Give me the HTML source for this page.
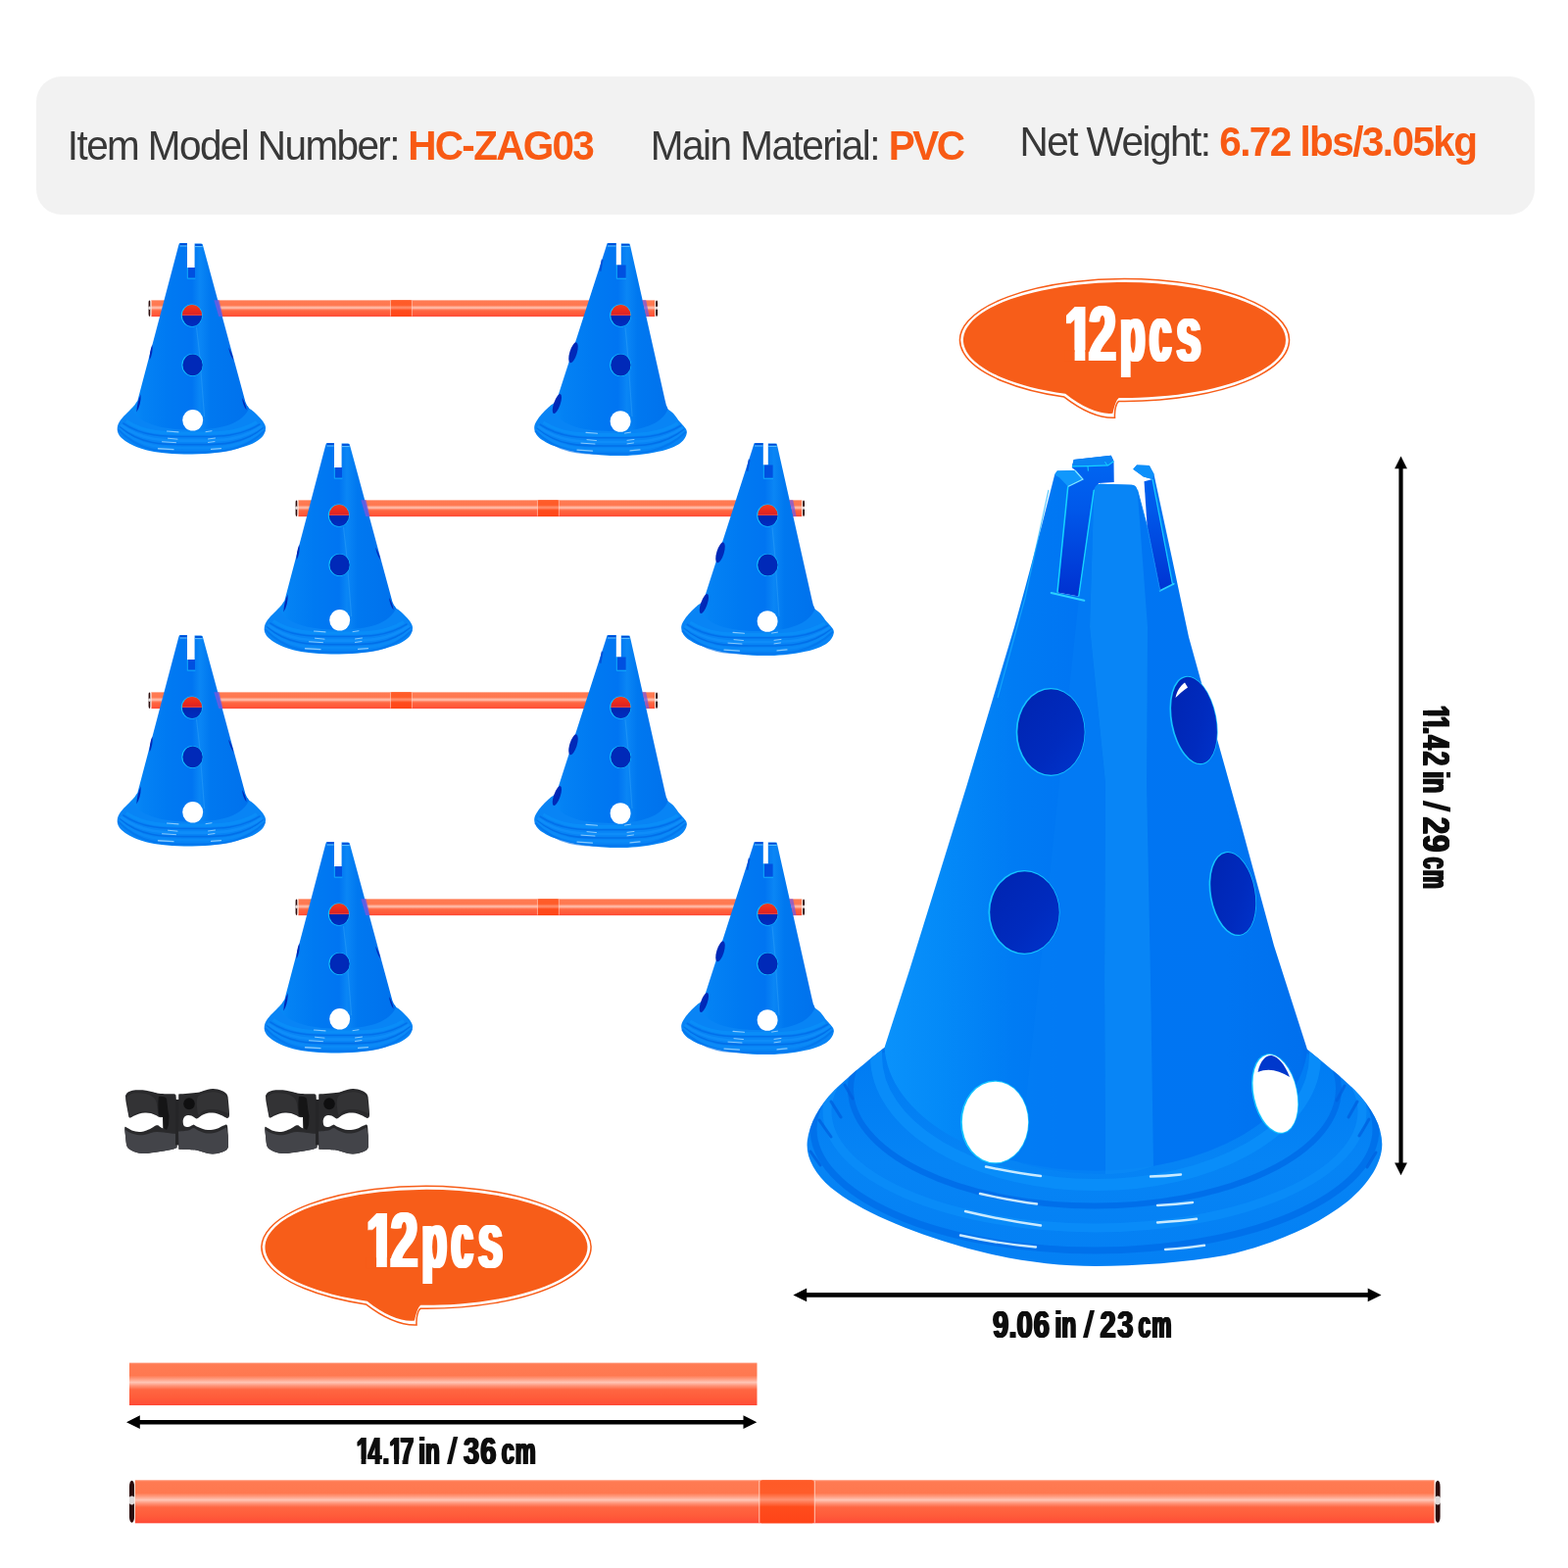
<!DOCTYPE html>
<html lang="en">
<head>
<meta charset="utf-8">
<title>Training cone hurdle set - specifications</title>
<style>
html,body{margin:0;padding:0;background:#fff;}
body{width:1600px;height:1600px;overflow:hidden;font-family:'Liberation Sans', sans-serif;}
svg{display:block;}
</style>
</head>
<body>
<svg width="1600" height="1600" viewBox="0 0 1600 1600">
<defs>
<filter id="fat1" x="-5%" y="-10%" width="110%" height="120%"><feOffset in="SourceGraphic" dx="-0.9" result="a"/><feOffset in="SourceGraphic" dx="-0.45" result="b"/><feOffset in="SourceGraphic" dx="0.45" result="c"/><feOffset in="SourceGraphic" dx="0.9" result="d"/><feMerge><feMergeNode in="a"/><feMergeNode in="b"/><feMergeNode in="SourceGraphic"/><feMergeNode in="c"/><feMergeNode in="d"/></feMerge></filter>
<filter id="fat2" x="-5%" y="-10%" width="110%" height="120%"><feOffset in="SourceGraphic" dx="-2" result="a"/><feOffset in="SourceGraphic" dx="-1" result="b"/><feOffset in="SourceGraphic" dx="1" result="c"/><feOffset in="SourceGraphic" dx="2" result="d"/><feMerge><feMergeNode in="a"/><feMergeNode in="b"/><feMergeNode in="SourceGraphic"/><feMergeNode in="c"/><feMergeNode in="d"/></feMerge></filter>
<linearGradient id="scL" gradientUnits="userSpaceOnUse" x1="130" y1="0" x2="262" y2="0"><stop offset="0" stop-color="#0a8ef7"/><stop offset="0.12" stop-color="#0482f4"/><stop offset="0.3" stop-color="#007af2"/><stop offset="0.5" stop-color="#0075f2"/><stop offset="0.56" stop-color="#0a86f5"/><stop offset="0.64" stop-color="#0078f0"/><stop offset="1" stop-color="#0070ec"/></linearGradient>
<linearGradient id="scR" gradientUnits="userSpaceOnUse" x1="558" y1="0" x2="690" y2="0"><stop offset="0" stop-color="#0a8ef7"/><stop offset="0.12" stop-color="#0482f4"/><stop offset="0.35" stop-color="#007af2"/><stop offset="0.55" stop-color="#0075f2"/><stop offset="0.62" stop-color="#0a86f5"/><stop offset="0.7" stop-color="#0078f0"/><stop offset="1" stop-color="#0070ec"/></linearGradient>
<linearGradient id="scB" x1="0" y1="0" x2="0" y2="1"><stop offset="0" stop-color="#0078f1"/><stop offset="0.55" stop-color="#0a88f6"/><stop offset="0.8" stop-color="#047ef3"/><stop offset="1" stop-color="#0078f0"/></linearGradient>
<linearGradient id="holeRod" x1="0" y1="0" x2="0" y2="1"><stop offset="0" stop-color="#f23a1c"/><stop offset="0.3" stop-color="#e8281c"/><stop offset="0.47" stop-color="#d8242a"/><stop offset="0.49" stop-color="#f08070"/><stop offset="0.52" stop-color="#0026b0"/><stop offset="1" stop-color="#002cc0"/></linearGradient>
<linearGradient id="bcBody" gradientUnits="userSpaceOnUse" x1="900" y1="0" x2="1340" y2="0"><stop offset="0" stop-color="#0a92fb"/><stop offset="0.14" stop-color="#048af8"/><stop offset="0.3" stop-color="#007cf4"/><stop offset="0.45" stop-color="#0075f3"/><stop offset="0.8" stop-color="#0075f2"/><stop offset="0.97" stop-color="#0070ee"/><stop offset="1" stop-color="#0068e8"/></linearGradient>
<linearGradient id="bcBase" gradientUnits="userSpaceOnUse" x1="0" y1="1080" x2="0" y2="1292"><stop offset="0" stop-color="#007cf3"/><stop offset="0.5" stop-color="#0684f5"/><stop offset="1" stop-color="#0480f4"/></linearGradient>
<linearGradient id="bcHole" x1="0" y1="0" x2="1" y2="1"><stop offset="0" stop-color="#0024b0"/><stop offset="0.6" stop-color="#002bbe"/><stop offset="1" stop-color="#0034cc"/></linearGradient>
<clipPath id="bcClip"><path d="M902.5,1069 C886,1082 866,1098 851,1113 C836,1128 826,1147 823.8,1164 C822,1180 830,1196 848,1212 C880,1238 940,1262 1000,1277 C1040,1287 1080,1292 1118,1292 C1160,1292 1210,1288 1250,1281 C1300,1270 1345,1250 1375,1226 C1398,1207 1410,1186 1410.3,1168 C1410.5,1150 1400,1130 1382,1112 C1368,1098 1350,1084 1334,1071 Z"/></clipPath>
<linearGradient id="bcSlot" gradientUnits="userSpaceOnUse" x1="0" y1="470" x2="0" y2="610"><stop offset="0" stop-color="#0066f2"/><stop offset="0.35" stop-color="#0058ea"/><stop offset="1" stop-color="#0030d0"/></linearGradient>
<linearGradient id="rod1" gradientUnits="userSpaceOnUse" x1="0" y1="306.3" x2="0" y2="323.1"><stop offset="0" stop-color="#ff8c6a"/><stop offset="0.05" stop-color="#ff7a52"/><stop offset="0.3" stop-color="#ff7850"/><stop offset="0.38" stop-color="#ff9c80"/><stop offset="0.462" stop-color="#ffc6b6"/><stop offset="0.54" stop-color="#ff9478"/><stop offset="0.63" stop-color="#ff6642"/><stop offset="0.82" stop-color="#ff5c3a"/><stop offset="0.95" stop-color="#ff5038"/><stop offset="1" stop-color="#ff4836"/></linearGradient>
<linearGradient id="rod1j" gradientUnits="userSpaceOnUse" x1="0" y1="306.3" x2="0" y2="323.1"><stop offset="0" stop-color="#ff5a26"/><stop offset="0.3" stop-color="#ff5c2a"/><stop offset="0.455" stop-color="#ff9272"/><stop offset="0.62" stop-color="#ff4c1c"/><stop offset="1" stop-color="#ff4418"/></linearGradient>
<linearGradient id="rod2" gradientUnits="userSpaceOnUse" x1="0" y1="306.3" x2="0" y2="323.1"><stop offset="0" stop-color="#ff8c6a"/><stop offset="0.05" stop-color="#ff7a52"/><stop offset="0.3" stop-color="#ff7850"/><stop offset="0.38" stop-color="#ff9c80"/><stop offset="0.462" stop-color="#ffc6b6"/><stop offset="0.54" stop-color="#ff9478"/><stop offset="0.63" stop-color="#ff6642"/><stop offset="0.82" stop-color="#ff5c3a"/><stop offset="0.95" stop-color="#ff5038"/><stop offset="1" stop-color="#ff4836"/></linearGradient>
<linearGradient id="rod2j" gradientUnits="userSpaceOnUse" x1="0" y1="306.3" x2="0" y2="323.1"><stop offset="0" stop-color="#ff5a26"/><stop offset="0.3" stop-color="#ff5c2a"/><stop offset="0.455" stop-color="#ff9272"/><stop offset="0.62" stop-color="#ff4c1c"/><stop offset="1" stop-color="#ff4418"/></linearGradient>
<linearGradient id="rod3" gradientUnits="userSpaceOnUse" x1="0" y1="306.3" x2="0" y2="323.1"><stop offset="0" stop-color="#ff8c6a"/><stop offset="0.05" stop-color="#ff7a52"/><stop offset="0.3" stop-color="#ff7850"/><stop offset="0.38" stop-color="#ff9c80"/><stop offset="0.462" stop-color="#ffc6b6"/><stop offset="0.54" stop-color="#ff9478"/><stop offset="0.63" stop-color="#ff6642"/><stop offset="0.82" stop-color="#ff5c3a"/><stop offset="0.95" stop-color="#ff5038"/><stop offset="1" stop-color="#ff4836"/></linearGradient>
<linearGradient id="rod3j" gradientUnits="userSpaceOnUse" x1="0" y1="306.3" x2="0" y2="323.1"><stop offset="0" stop-color="#ff5a26"/><stop offset="0.3" stop-color="#ff5c2a"/><stop offset="0.455" stop-color="#ff9272"/><stop offset="0.62" stop-color="#ff4c1c"/><stop offset="1" stop-color="#ff4418"/></linearGradient>
<linearGradient id="rod4" gradientUnits="userSpaceOnUse" x1="0" y1="306.3" x2="0" y2="323.1"><stop offset="0" stop-color="#ff8c6a"/><stop offset="0.05" stop-color="#ff7a52"/><stop offset="0.3" stop-color="#ff7850"/><stop offset="0.38" stop-color="#ff9c80"/><stop offset="0.462" stop-color="#ffc6b6"/><stop offset="0.54" stop-color="#ff9478"/><stop offset="0.63" stop-color="#ff6642"/><stop offset="0.82" stop-color="#ff5c3a"/><stop offset="0.95" stop-color="#ff5038"/><stop offset="1" stop-color="#ff4836"/></linearGradient>
<linearGradient id="rod4j" gradientUnits="userSpaceOnUse" x1="0" y1="306.3" x2="0" y2="323.1"><stop offset="0" stop-color="#ff5a26"/><stop offset="0.3" stop-color="#ff5c2a"/><stop offset="0.455" stop-color="#ff9272"/><stop offset="0.62" stop-color="#ff4c1c"/><stop offset="1" stop-color="#ff4418"/></linearGradient>
<linearGradient id="rod5" gradientUnits="userSpaceOnUse" x1="0" y1="1390.6" x2="0" y2="1434"><stop offset="0" stop-color="#ff8c6a"/><stop offset="0.05" stop-color="#ff7a52"/><stop offset="0.3" stop-color="#ff7850"/><stop offset="0.38" stop-color="#ff9c80"/><stop offset="0.462" stop-color="#ffc6b6"/><stop offset="0.54" stop-color="#ff9478"/><stop offset="0.63" stop-color="#ff6642"/><stop offset="0.82" stop-color="#ff5c3a"/><stop offset="0.95" stop-color="#ff5038"/><stop offset="1" stop-color="#ff4836"/></linearGradient>
<linearGradient id="rod5j" gradientUnits="userSpaceOnUse" x1="0" y1="1390.6" x2="0" y2="1434"><stop offset="0" stop-color="#ff5a26"/><stop offset="0.3" stop-color="#ff5c2a"/><stop offset="0.455" stop-color="#ff9272"/><stop offset="0.62" stop-color="#ff4c1c"/><stop offset="1" stop-color="#ff4418"/></linearGradient>
<linearGradient id="rod6" gradientUnits="userSpaceOnUse" x1="0" y1="1510.3" x2="0" y2="1554.3"><stop offset="0" stop-color="#ff8c6a"/><stop offset="0.05" stop-color="#ff7a52"/><stop offset="0.3" stop-color="#ff7850"/><stop offset="0.38" stop-color="#ff9c80"/><stop offset="0.462" stop-color="#ffc6b6"/><stop offset="0.54" stop-color="#ff9478"/><stop offset="0.63" stop-color="#ff6642"/><stop offset="0.82" stop-color="#ff5c3a"/><stop offset="0.95" stop-color="#ff5038"/><stop offset="1" stop-color="#ff4836"/></linearGradient>
<linearGradient id="rod6j" gradientUnits="userSpaceOnUse" x1="0" y1="1510.3" x2="0" y2="1554.3"><stop offset="0" stop-color="#ff5a26"/><stop offset="0.3" stop-color="#ff5c2a"/><stop offset="0.455" stop-color="#ff9272"/><stop offset="0.62" stop-color="#ff4c1c"/><stop offset="1" stop-color="#ff4418"/></linearGradient>
</defs>
<rect x="37" y="78" width="1529" height="141" rx="26" ry="26" fill="#f2f2f2"/>
<g font-family="'Liberation Sans', sans-serif">
<text transform="translate(68.85,163) scale(1,1.04)" font-size="40.5" letter-spacing="-1.590" fill="#383838">Item Model Number:</text>
<text transform="translate(416.27,163) scale(1,1.04)" font-size="40.5" letter-spacing="-1.693" fill="#f85a14" font-weight="bold">HC-ZAG03</text>
<text transform="translate(663.66,163) scale(1,1.04)" font-size="40.5" letter-spacing="-1.489" fill="#383838">Main Material:</text>
<text transform="translate(906.77,163) scale(1,1.04)" font-size="40.5" letter-spacing="-2.491" fill="#f85a14" font-weight="bold">PVC</text>
<text transform="translate(1040.41,159.3) scale(1,1.04)" font-size="40.5" letter-spacing="-1.507" fill="#383838">Net Weight:</text>
<text transform="translate(1244.23,159.3) scale(1,1.04)" font-size="40.5" letter-spacing="-1.573" fill="#f85a14" font-weight="bold">6.72 lbs/3.05kg</text>
</g>
<g transform="translate(0,0)">
<rect x="154.33" y="306.3" width="513.94" height="16.8" fill="url(#rod1)"/>
<rect x="398.8" y="306.3" width="21.2" height="16.8" rx="1.18" fill="url(#rod1j)"/>
<path d="M398.44,306.8 V322.6 M420.36,306.8 V322.6" stroke="#ffd2c2" stroke-width="0.6" fill="none"/>
<rect x="151.6" y="306.47" width="1.93" height="16.46" rx="0.97" ry="2.35" fill="#2c0c0c"/>
<ellipse cx="152.57" cy="314.2" rx="1.2" ry="1.68" fill="#fff" opacity="0.85"/>
<rect x="153.53" y="306.7" width="0.9" height="16" fill="#ffe4da"/>
<rect x="669.07" y="306.47" width="1.93" height="16.46" rx="0.97" ry="2.35" fill="#2c0c0c"/>
<ellipse cx="670.03" cy="314.2" rx="1.2" ry="1.68" fill="#fff" opacity="0.85"/>
<rect x="668.17" y="306.7" width="0.9" height="16" fill="#ffe4da"/>
</g>
<g transform="translate(0,0)">
<path d="M252.2,414 254.1,416.6 C254.98,417.27 257.43,418.85 259.4,420.6 C261.37,422.35 264.17,425.12 265.9,427.1 C267.63,429.08 268.95,430.82 269.8,432.5 C270.65,434.18 271.13,435.32 271,437.2 C270.87,439.07 270.21,441.78 269,443.75 C267.79,445.72 266.08,447.32 263.75,449 C261.42,450.68 258.64,452.32 255,453.8 C251.36,455.28 247.4,456.57 241.9,457.9 C236.4,459.23 229.65,460.85 222,461.8 C214.35,462.75 204.67,463.5 196,463.6 C187.33,463.7 177.04,462.97 170,462.4 C162.96,461.83 158.65,461.2 153.75,460.2 C148.85,459.2 144.24,457.68 140.6,456.4 C136.96,455.12 134.6,454.02 131.9,452.5 C129.2,450.98 126.3,449 124.4,447.25 C122.5,445.5 121.27,443.89 120.5,442 C119.73,440.11 119.51,437.94 119.8,435.9 C120.09,433.86 120.97,431.8 122.25,429.75 C123.53,427.7 125.46,425.83 127.5,423.6 C129.54,421.38 133.33,417.6 134.5,416.4 Z" fill="#0884f5"/>
<path d="M128.8,429.6 C150.14,443.6 172.16,442.1 195.5,442.1 C218.78,442.1 240.72,443.6 262,430.6" fill="none" stroke="#0a8ef8" stroke-width="3.2" opacity="0.9"/>
<path d="M125.3,431.6 C147.76,446.9 170.93,445.4 195.5,445.4 C220,445.4 243.1,446.9 265.5,432.6" fill="none" stroke="#006ce8" stroke-width="1.5" opacity="0.8"/>
<path d="M123.3,433.6 C146.4,451.1 170.23,449.6 195.5,449.6 C220.7,449.6 244.46,451.1 267.5,434.6" fill="none" stroke="#1090fa" stroke-width="2.6" opacity="0.8"/>
<path d="M121.8,435.6 C145.38,455.1 169.71,453.6 195.5,453.6 C221.22,453.6 245.48,455.1 269,436.6" fill="none" stroke="#006ae6" stroke-width="1.6" opacity="0.8"/>
<path d="M121,436.6 C144.84,458.6 169.43,457.1 195.5,457.1 C221.5,457.1 246.02,458.6 269.8,437.6" fill="none" stroke="#0c8cf8" stroke-width="2.4" opacity="0.8"/>
<path d="M120.4,438.1 C144.43,462.9 169.22,461.4 195.5,461.4 C221.71,461.4 246.43,462.9 270.4,439.1" fill="none" stroke="#0070ea" stroke-width="2" opacity="0.6"/>
<path d="M170.5,439.95 L182,440.85" stroke="#b4e0ff" stroke-width="1.1" stroke-linecap="round" opacity="0.75"/>
<path d="M171.5,447.25 L181,448.15" stroke="#b4e0ff" stroke-width="1.0" stroke-linecap="round" opacity="0.75"/>
<path d="M165.5,450.75 L179.5,451.65" stroke="#b4e0ff" stroke-width="1.0" stroke-linecap="round" opacity="0.75"/>
<path d="M161.5,457.75 L177,458.65" stroke="#b4e0ff" stroke-width="1.3" stroke-linecap="round" opacity="0.75"/>
<path d="M210,440.65 L216,439.75" stroke="#b4e0ff" stroke-width="1.0" stroke-linecap="round" opacity="0.75"/>
<path d="M212.5,447.95 L219.5,447.05" stroke="#b4e0ff" stroke-width="1.0" stroke-linecap="round" opacity="0.75"/>
<path d="M212.5,451.45 L219,450.55" stroke="#b4e0ff" stroke-width="1.0" stroke-linecap="round" opacity="0.75"/>
<path d="M215.5,458.45 L225.5,457.55" stroke="#b4e0ff" stroke-width="1.2" stroke-linecap="round" opacity="0.75"/>
<path d="M182.2,250.6 183,248.3 184.8,248 191,248 191,273.5 198.6,273.5 198.6,248.6 205,248.6 206.6,249 207.2,251 L250.4,410 252.2,414 254.1,416.6 C248.1,431.6 227.5,438.6 195.5,438.6 C163.5,438.6 140.5,431.6 134.5,416.4 L137.2,413.6 140.4,408.75 Z" fill="url(#scL)"/>
<rect x="191.8" y="273" width="7.2" height="10.6" fill="#0050e0"/>
<path d="M191.3,273 V284.2 H199.4" fill="none" stroke="#12b0fa" stroke-width="0.9"/>
<path d="M183.8,249.4 H190.6 M199.2,250 H206" stroke="#0048d4" stroke-width="1.6" fill="none"/>
<path d="M183.4,251 H190.8 M199,251.6 H206.6" stroke="#6ccaff" stroke-width="0.9" fill="none"/>
<path d="M155.4,351.5 C153.4,356 152.4,362 152.6,367.6 C155,363 156.2,357 155.4,351.5 Z M143.6,402.4 C140.8,408 139.6,414.5 139.3,420.6 C142.4,415.6 144,409 143.6,402.4 Z" fill="#0029b8"/>
<path d="M233.2,354.5 C235.6,358 237.6,363 238.3,367.5 C235.8,364 233.8,359 233.2,354.5 Z M247,406 C249.4,409.6 251,414 251.6,418.4 C249,415 247.4,410.5 247,406 Z" fill="#0029b8"/>
<path d="M200.5,334 L203.5,360 L208.6,425" fill="none" stroke="#2a9cf8" stroke-width="1.2" opacity="0.55"/>
<ellipse cx="195.7" cy="322" rx="10.9" ry="11.5" fill="#14c4ff"/>
<ellipse cx="196" cy="322" rx="10.2" ry="10.9" fill="url(#holeRod)"/>
<ellipse cx="196.3" cy="372.4" rx="10.9" ry="11.5" fill="#14c4ff"/>
<ellipse cx="196.6" cy="372.4" rx="10.2" ry="10.9" fill="#0029b8"/>
<ellipse cx="196.7" cy="428.8" rx="10.5" ry="10.8" fill="#fff"/>
</g>
<g transform="translate(0,0)">
<path d="M680,414 681.5,417.5 C682.45,418.23 685.16,419.72 687.2,421.9 C689.24,424.08 691.85,428.25 693.75,430.6 C695.65,432.95 697.43,434.39 698.6,436 C699.77,437.61 700.62,438.6 700.75,440.25 C700.88,441.9 700.57,443.86 699.4,445.9 C698.23,447.94 696.15,450.67 693.75,452.5 C691.35,454.33 688.64,455.52 685,456.9 C681.36,458.28 677.73,459.58 671.9,460.8 C666.07,462.02 658.15,463.5 650,464.2 C641.85,464.9 632.17,465.32 623,465 C613.83,464.68 602.38,463.3 595,462.3 C587.62,461.3 583.6,460.2 578.7,459 C573.8,457.8 569.23,456.4 565.6,455.1 C561.97,453.8 559.45,452.58 556.9,451.2 C554.35,449.82 552.05,448.4 550.3,446.8 C548.55,445.2 547.23,443.57 546.4,441.6 C545.57,439.63 544.93,437.27 545.3,435 C545.67,432.73 547.03,430.4 548.6,428 C550.17,425.6 552.45,423 554.7,420.6 C556.95,418.2 560.87,414.77 562.1,413.6 Z" fill="#0884f5"/>
<path d="M554.3,431 C576.28,445 598.95,443.5 623,443.5 C647.06,443.5 669.75,445 691.75,432" fill="none" stroke="#0a8ef8" stroke-width="3.2" opacity="0.9"/>
<path d="M550.8,433 C573.9,448.3 597.73,446.8 623,446.8 C648.29,446.8 672.13,448.3 695.25,434" fill="none" stroke="#006ce8" stroke-width="1.5" opacity="0.8"/>
<path d="M548.8,435 C572.54,452.5 597.03,451 623,451 C648.99,451 673.49,452.5 697.25,436" fill="none" stroke="#1090fa" stroke-width="2.6" opacity="0.8"/>
<path d="M547.3,437 C571.52,456.5 596.5,455 623,455 C649.51,455 674.51,456.5 698.75,438" fill="none" stroke="#006ae6" stroke-width="1.6" opacity="0.8"/>
<path d="M546.5,438 C570.98,460 596.23,458.5 623,458.5 C649.79,458.5 675.05,460 699.55,439" fill="none" stroke="#0c8cf8" stroke-width="2.4" opacity="0.8"/>
<path d="M545.9,439.5 C570.57,464.3 596.01,462.8 623,462.8 C650,462.8 675.46,464.3 700.15,440.5" fill="none" stroke="#0070ea" stroke-width="2" opacity="0.6"/>
<path d="M598,441.35 L609.5,442.25" stroke="#b4e0ff" stroke-width="1.1" stroke-linecap="round" opacity="0.75"/>
<path d="M599,448.65 L608.5,449.55" stroke="#b4e0ff" stroke-width="1.0" stroke-linecap="round" opacity="0.75"/>
<path d="M593,452.15 L607,453.05" stroke="#b4e0ff" stroke-width="1.0" stroke-linecap="round" opacity="0.75"/>
<path d="M589,459.15 L604.5,460.05" stroke="#b4e0ff" stroke-width="1.3" stroke-linecap="round" opacity="0.75"/>
<path d="M637.5,442.05 L643.5,441.15" stroke="#b4e0ff" stroke-width="1.0" stroke-linecap="round" opacity="0.75"/>
<path d="M640,449.35 L647,448.45" stroke="#b4e0ff" stroke-width="1.0" stroke-linecap="round" opacity="0.75"/>
<path d="M640,452.85 L646.5,451.95" stroke="#b4e0ff" stroke-width="1.0" stroke-linecap="round" opacity="0.75"/>
<path d="M643,459.85 L653,458.95" stroke="#b4e0ff" stroke-width="1.2" stroke-linecap="round" opacity="0.75"/>
<path d="M618.9,250.6 619.6,248.3 621.4,248 628.8,248 628.8,270.5 633.8,270.5 633.8,248.4 641,248.4 642.6,248.8 643.2,251 L678.7,408.75 680,414 681.5,417.5 C675.5,433 655,440 623,440 C591,440 568.1,433 562.1,413.6 L565,411.4 567.8,409 Z" fill="url(#scR)"/>
<rect x="629.8" y="270.5" width="8.8" height="13.2" fill="#0050e0"/>
<path d="M629.3,270.5 V284.3 H639" fill="none" stroke="#12b0fa" stroke-width="0.9"/>
<path d="M620.4,249.4 H628.4 M634.4,249.8 H642" stroke="#0048d4" stroke-width="1.6" fill="none"/>
<path d="M620,251 H628.6 M634.2,251.4 H642.6" stroke="#6ccaff" stroke-width="0.9" fill="none"/>
<path d="M613.8,264.5 L615.6,265.2 L613.4,277 L611.6,276.4 Z" fill="#0050d8"/>
<ellipse cx="585" cy="359.8" rx="3.7" ry="10.9" transform="rotate(17 585 359.8)" fill="#0029b8"/>
<ellipse cx="568.4" cy="412" rx="3.3" ry="10.6" transform="rotate(19 568.4 412)" fill="#0029b8"/>
<path d="M638,334 L640.5,360 L645,425" fill="none" stroke="#2a9cf8" stroke-width="1.2" opacity="0.55"/>
<ellipse cx="633.1" cy="322" rx="10.9" ry="11.5" fill="#14c4ff"/>
<ellipse cx="633.4" cy="322" rx="10.2" ry="10.9" fill="url(#holeRod)"/>
<ellipse cx="633.1" cy="372.5" rx="10.9" ry="11.5" fill="#14c4ff"/>
<ellipse cx="633.4" cy="372.5" rx="10.2" ry="10.9" fill="#0029b8"/>
<ellipse cx="633.1" cy="430" rx="10.5" ry="10.8" fill="#fff"/>
</g>
<g transform="translate(0,0)" fill="#7a58e0" opacity="0.75">
<path d="M218.3,306.3 L223.6,306.3 L227.5,323.1 L223.2,323.1 Z"/>
<path d="M655.3,306.3 L659.2,306.3 L662.6,323.1 L659.5,323.1 Z"/>
</g>
<g transform="translate(150,204)">
<rect x="154.33" y="306.3" width="513.94" height="16.8" fill="url(#rod2)"/>
<rect x="398.8" y="306.3" width="21.2" height="16.8" rx="1.18" fill="url(#rod2j)"/>
<path d="M398.44,306.8 V322.6 M420.36,306.8 V322.6" stroke="#ffd2c2" stroke-width="0.6" fill="none"/>
<rect x="151.6" y="306.47" width="1.93" height="16.46" rx="0.97" ry="2.35" fill="#2c0c0c"/>
<ellipse cx="152.57" cy="314.2" rx="1.2" ry="1.68" fill="#fff" opacity="0.85"/>
<rect x="153.53" y="306.7" width="0.9" height="16" fill="#ffe4da"/>
<rect x="669.07" y="306.47" width="1.93" height="16.46" rx="0.97" ry="2.35" fill="#2c0c0c"/>
<ellipse cx="670.03" cy="314.2" rx="1.2" ry="1.68" fill="#fff" opacity="0.85"/>
<rect x="668.17" y="306.7" width="0.9" height="16" fill="#ffe4da"/>
</g>
<g transform="translate(150,204)">
<path d="M252.2,414 254.1,416.6 C254.98,417.27 257.43,418.85 259.4,420.6 C261.37,422.35 264.17,425.12 265.9,427.1 C267.63,429.08 268.95,430.82 269.8,432.5 C270.65,434.18 271.13,435.32 271,437.2 C270.87,439.07 270.21,441.78 269,443.75 C267.79,445.72 266.08,447.32 263.75,449 C261.42,450.68 258.64,452.32 255,453.8 C251.36,455.28 247.4,456.57 241.9,457.9 C236.4,459.23 229.65,460.85 222,461.8 C214.35,462.75 204.67,463.5 196,463.6 C187.33,463.7 177.04,462.97 170,462.4 C162.96,461.83 158.65,461.2 153.75,460.2 C148.85,459.2 144.24,457.68 140.6,456.4 C136.96,455.12 134.6,454.02 131.9,452.5 C129.2,450.98 126.3,449 124.4,447.25 C122.5,445.5 121.27,443.89 120.5,442 C119.73,440.11 119.51,437.94 119.8,435.9 C120.09,433.86 120.97,431.8 122.25,429.75 C123.53,427.7 125.46,425.83 127.5,423.6 C129.54,421.38 133.33,417.6 134.5,416.4 Z" fill="#0884f5"/>
<path d="M128.8,429.6 C150.14,443.6 172.16,442.1 195.5,442.1 C218.78,442.1 240.72,443.6 262,430.6" fill="none" stroke="#0a8ef8" stroke-width="3.2" opacity="0.9"/>
<path d="M125.3,431.6 C147.76,446.9 170.93,445.4 195.5,445.4 C220,445.4 243.1,446.9 265.5,432.6" fill="none" stroke="#006ce8" stroke-width="1.5" opacity="0.8"/>
<path d="M123.3,433.6 C146.4,451.1 170.23,449.6 195.5,449.6 C220.7,449.6 244.46,451.1 267.5,434.6" fill="none" stroke="#1090fa" stroke-width="2.6" opacity="0.8"/>
<path d="M121.8,435.6 C145.38,455.1 169.71,453.6 195.5,453.6 C221.22,453.6 245.48,455.1 269,436.6" fill="none" stroke="#006ae6" stroke-width="1.6" opacity="0.8"/>
<path d="M121,436.6 C144.84,458.6 169.43,457.1 195.5,457.1 C221.5,457.1 246.02,458.6 269.8,437.6" fill="none" stroke="#0c8cf8" stroke-width="2.4" opacity="0.8"/>
<path d="M120.4,438.1 C144.43,462.9 169.22,461.4 195.5,461.4 C221.71,461.4 246.43,462.9 270.4,439.1" fill="none" stroke="#0070ea" stroke-width="2" opacity="0.6"/>
<path d="M170.5,439.95 L182,440.85" stroke="#b4e0ff" stroke-width="1.1" stroke-linecap="round" opacity="0.75"/>
<path d="M171.5,447.25 L181,448.15" stroke="#b4e0ff" stroke-width="1.0" stroke-linecap="round" opacity="0.75"/>
<path d="M165.5,450.75 L179.5,451.65" stroke="#b4e0ff" stroke-width="1.0" stroke-linecap="round" opacity="0.75"/>
<path d="M161.5,457.75 L177,458.65" stroke="#b4e0ff" stroke-width="1.3" stroke-linecap="round" opacity="0.75"/>
<path d="M210,440.65 L216,439.75" stroke="#b4e0ff" stroke-width="1.0" stroke-linecap="round" opacity="0.75"/>
<path d="M212.5,447.95 L219.5,447.05" stroke="#b4e0ff" stroke-width="1.0" stroke-linecap="round" opacity="0.75"/>
<path d="M212.5,451.45 L219,450.55" stroke="#b4e0ff" stroke-width="1.0" stroke-linecap="round" opacity="0.75"/>
<path d="M215.5,458.45 L225.5,457.55" stroke="#b4e0ff" stroke-width="1.2" stroke-linecap="round" opacity="0.75"/>
<path d="M182.2,250.6 183,248.3 184.8,248 191,248 191,273.5 198.6,273.5 198.6,248.6 205,248.6 206.6,249 207.2,251 L250.4,410 252.2,414 254.1,416.6 C248.1,431.6 227.5,438.6 195.5,438.6 C163.5,438.6 140.5,431.6 134.5,416.4 L137.2,413.6 140.4,408.75 Z" fill="url(#scL)"/>
<rect x="191.8" y="273" width="7.2" height="10.6" fill="#0050e0"/>
<path d="M191.3,273 V284.2 H199.4" fill="none" stroke="#12b0fa" stroke-width="0.9"/>
<path d="M183.8,249.4 H190.6 M199.2,250 H206" stroke="#0048d4" stroke-width="1.6" fill="none"/>
<path d="M183.4,251 H190.8 M199,251.6 H206.6" stroke="#6ccaff" stroke-width="0.9" fill="none"/>
<path d="M155.4,351.5 C153.4,356 152.4,362 152.6,367.6 C155,363 156.2,357 155.4,351.5 Z M143.6,402.4 C140.8,408 139.6,414.5 139.3,420.6 C142.4,415.6 144,409 143.6,402.4 Z" fill="#0029b8"/>
<path d="M233.2,354.5 C235.6,358 237.6,363 238.3,367.5 C235.8,364 233.8,359 233.2,354.5 Z M247,406 C249.4,409.6 251,414 251.6,418.4 C249,415 247.4,410.5 247,406 Z" fill="#0029b8"/>
<path d="M200.5,334 L203.5,360 L208.6,425" fill="none" stroke="#2a9cf8" stroke-width="1.2" opacity="0.55"/>
<ellipse cx="195.7" cy="322" rx="10.9" ry="11.5" fill="#14c4ff"/>
<ellipse cx="196" cy="322" rx="10.2" ry="10.9" fill="url(#holeRod)"/>
<ellipse cx="196.3" cy="372.4" rx="10.9" ry="11.5" fill="#14c4ff"/>
<ellipse cx="196.6" cy="372.4" rx="10.2" ry="10.9" fill="#0029b8"/>
<ellipse cx="196.7" cy="428.8" rx="10.5" ry="10.8" fill="#fff"/>
</g>
<g transform="translate(150,204)">
<path d="M680,414 681.5,417.5 C682.45,418.23 685.16,419.72 687.2,421.9 C689.24,424.08 691.85,428.25 693.75,430.6 C695.65,432.95 697.43,434.39 698.6,436 C699.77,437.61 700.62,438.6 700.75,440.25 C700.88,441.9 700.57,443.86 699.4,445.9 C698.23,447.94 696.15,450.67 693.75,452.5 C691.35,454.33 688.64,455.52 685,456.9 C681.36,458.28 677.73,459.58 671.9,460.8 C666.07,462.02 658.15,463.5 650,464.2 C641.85,464.9 632.17,465.32 623,465 C613.83,464.68 602.38,463.3 595,462.3 C587.62,461.3 583.6,460.2 578.7,459 C573.8,457.8 569.23,456.4 565.6,455.1 C561.97,453.8 559.45,452.58 556.9,451.2 C554.35,449.82 552.05,448.4 550.3,446.8 C548.55,445.2 547.23,443.57 546.4,441.6 C545.57,439.63 544.93,437.27 545.3,435 C545.67,432.73 547.03,430.4 548.6,428 C550.17,425.6 552.45,423 554.7,420.6 C556.95,418.2 560.87,414.77 562.1,413.6 Z" fill="#0884f5"/>
<path d="M554.3,431 C576.28,445 598.95,443.5 623,443.5 C647.06,443.5 669.75,445 691.75,432" fill="none" stroke="#0a8ef8" stroke-width="3.2" opacity="0.9"/>
<path d="M550.8,433 C573.9,448.3 597.73,446.8 623,446.8 C648.29,446.8 672.13,448.3 695.25,434" fill="none" stroke="#006ce8" stroke-width="1.5" opacity="0.8"/>
<path d="M548.8,435 C572.54,452.5 597.03,451 623,451 C648.99,451 673.49,452.5 697.25,436" fill="none" stroke="#1090fa" stroke-width="2.6" opacity="0.8"/>
<path d="M547.3,437 C571.52,456.5 596.5,455 623,455 C649.51,455 674.51,456.5 698.75,438" fill="none" stroke="#006ae6" stroke-width="1.6" opacity="0.8"/>
<path d="M546.5,438 C570.98,460 596.23,458.5 623,458.5 C649.79,458.5 675.05,460 699.55,439" fill="none" stroke="#0c8cf8" stroke-width="2.4" opacity="0.8"/>
<path d="M545.9,439.5 C570.57,464.3 596.01,462.8 623,462.8 C650,462.8 675.46,464.3 700.15,440.5" fill="none" stroke="#0070ea" stroke-width="2" opacity="0.6"/>
<path d="M598,441.35 L609.5,442.25" stroke="#b4e0ff" stroke-width="1.1" stroke-linecap="round" opacity="0.75"/>
<path d="M599,448.65 L608.5,449.55" stroke="#b4e0ff" stroke-width="1.0" stroke-linecap="round" opacity="0.75"/>
<path d="M593,452.15 L607,453.05" stroke="#b4e0ff" stroke-width="1.0" stroke-linecap="round" opacity="0.75"/>
<path d="M589,459.15 L604.5,460.05" stroke="#b4e0ff" stroke-width="1.3" stroke-linecap="round" opacity="0.75"/>
<path d="M637.5,442.05 L643.5,441.15" stroke="#b4e0ff" stroke-width="1.0" stroke-linecap="round" opacity="0.75"/>
<path d="M640,449.35 L647,448.45" stroke="#b4e0ff" stroke-width="1.0" stroke-linecap="round" opacity="0.75"/>
<path d="M640,452.85 L646.5,451.95" stroke="#b4e0ff" stroke-width="1.0" stroke-linecap="round" opacity="0.75"/>
<path d="M643,459.85 L653,458.95" stroke="#b4e0ff" stroke-width="1.2" stroke-linecap="round" opacity="0.75"/>
<path d="M618.9,250.6 619.6,248.3 621.4,248 628.8,248 628.8,270.5 633.8,270.5 633.8,248.4 641,248.4 642.6,248.8 643.2,251 L678.7,408.75 680,414 681.5,417.5 C675.5,433 655,440 623,440 C591,440 568.1,433 562.1,413.6 L565,411.4 567.8,409 Z" fill="url(#scR)"/>
<rect x="629.8" y="270.5" width="8.8" height="13.2" fill="#0050e0"/>
<path d="M629.3,270.5 V284.3 H639" fill="none" stroke="#12b0fa" stroke-width="0.9"/>
<path d="M620.4,249.4 H628.4 M634.4,249.8 H642" stroke="#0048d4" stroke-width="1.6" fill="none"/>
<path d="M620,251 H628.6 M634.2,251.4 H642.6" stroke="#6ccaff" stroke-width="0.9" fill="none"/>
<path d="M613.8,264.5 L615.6,265.2 L613.4,277 L611.6,276.4 Z" fill="#0050d8"/>
<ellipse cx="585" cy="359.8" rx="3.7" ry="10.9" transform="rotate(17 585 359.8)" fill="#0029b8"/>
<ellipse cx="568.4" cy="412" rx="3.3" ry="10.6" transform="rotate(19 568.4 412)" fill="#0029b8"/>
<path d="M638,334 L640.5,360 L645,425" fill="none" stroke="#2a9cf8" stroke-width="1.2" opacity="0.55"/>
<ellipse cx="633.1" cy="322" rx="10.9" ry="11.5" fill="#14c4ff"/>
<ellipse cx="633.4" cy="322" rx="10.2" ry="10.9" fill="url(#holeRod)"/>
<ellipse cx="633.1" cy="372.5" rx="10.9" ry="11.5" fill="#14c4ff"/>
<ellipse cx="633.4" cy="372.5" rx="10.2" ry="10.9" fill="#0029b8"/>
<ellipse cx="633.1" cy="430" rx="10.5" ry="10.8" fill="#fff"/>
</g>
<g transform="translate(150,204)" fill="#7a58e0" opacity="0.75">
<path d="M218.3,306.3 L223.6,306.3 L227.5,323.1 L223.2,323.1 Z"/>
<path d="M655.3,306.3 L659.2,306.3 L662.6,323.1 L659.5,323.1 Z"/>
</g>
<g transform="translate(0,400)">
<rect x="154.33" y="306.3" width="513.94" height="16.8" fill="url(#rod3)"/>
<rect x="398.8" y="306.3" width="21.2" height="16.8" rx="1.18" fill="url(#rod3j)"/>
<path d="M398.44,306.8 V322.6 M420.36,306.8 V322.6" stroke="#ffd2c2" stroke-width="0.6" fill="none"/>
<rect x="151.6" y="306.47" width="1.93" height="16.46" rx="0.97" ry="2.35" fill="#2c0c0c"/>
<ellipse cx="152.57" cy="314.2" rx="1.2" ry="1.68" fill="#fff" opacity="0.85"/>
<rect x="153.53" y="306.7" width="0.9" height="16" fill="#ffe4da"/>
<rect x="669.07" y="306.47" width="1.93" height="16.46" rx="0.97" ry="2.35" fill="#2c0c0c"/>
<ellipse cx="670.03" cy="314.2" rx="1.2" ry="1.68" fill="#fff" opacity="0.85"/>
<rect x="668.17" y="306.7" width="0.9" height="16" fill="#ffe4da"/>
</g>
<g transform="translate(0,400)">
<path d="M252.2,414 254.1,416.6 C254.98,417.27 257.43,418.85 259.4,420.6 C261.37,422.35 264.17,425.12 265.9,427.1 C267.63,429.08 268.95,430.82 269.8,432.5 C270.65,434.18 271.13,435.32 271,437.2 C270.87,439.07 270.21,441.78 269,443.75 C267.79,445.72 266.08,447.32 263.75,449 C261.42,450.68 258.64,452.32 255,453.8 C251.36,455.28 247.4,456.57 241.9,457.9 C236.4,459.23 229.65,460.85 222,461.8 C214.35,462.75 204.67,463.5 196,463.6 C187.33,463.7 177.04,462.97 170,462.4 C162.96,461.83 158.65,461.2 153.75,460.2 C148.85,459.2 144.24,457.68 140.6,456.4 C136.96,455.12 134.6,454.02 131.9,452.5 C129.2,450.98 126.3,449 124.4,447.25 C122.5,445.5 121.27,443.89 120.5,442 C119.73,440.11 119.51,437.94 119.8,435.9 C120.09,433.86 120.97,431.8 122.25,429.75 C123.53,427.7 125.46,425.83 127.5,423.6 C129.54,421.38 133.33,417.6 134.5,416.4 Z" fill="#0884f5"/>
<path d="M128.8,429.6 C150.14,443.6 172.16,442.1 195.5,442.1 C218.78,442.1 240.72,443.6 262,430.6" fill="none" stroke="#0a8ef8" stroke-width="3.2" opacity="0.9"/>
<path d="M125.3,431.6 C147.76,446.9 170.93,445.4 195.5,445.4 C220,445.4 243.1,446.9 265.5,432.6" fill="none" stroke="#006ce8" stroke-width="1.5" opacity="0.8"/>
<path d="M123.3,433.6 C146.4,451.1 170.23,449.6 195.5,449.6 C220.7,449.6 244.46,451.1 267.5,434.6" fill="none" stroke="#1090fa" stroke-width="2.6" opacity="0.8"/>
<path d="M121.8,435.6 C145.38,455.1 169.71,453.6 195.5,453.6 C221.22,453.6 245.48,455.1 269,436.6" fill="none" stroke="#006ae6" stroke-width="1.6" opacity="0.8"/>
<path d="M121,436.6 C144.84,458.6 169.43,457.1 195.5,457.1 C221.5,457.1 246.02,458.6 269.8,437.6" fill="none" stroke="#0c8cf8" stroke-width="2.4" opacity="0.8"/>
<path d="M120.4,438.1 C144.43,462.9 169.22,461.4 195.5,461.4 C221.71,461.4 246.43,462.9 270.4,439.1" fill="none" stroke="#0070ea" stroke-width="2" opacity="0.6"/>
<path d="M170.5,439.95 L182,440.85" stroke="#b4e0ff" stroke-width="1.1" stroke-linecap="round" opacity="0.75"/>
<path d="M171.5,447.25 L181,448.15" stroke="#b4e0ff" stroke-width="1.0" stroke-linecap="round" opacity="0.75"/>
<path d="M165.5,450.75 L179.5,451.65" stroke="#b4e0ff" stroke-width="1.0" stroke-linecap="round" opacity="0.75"/>
<path d="M161.5,457.75 L177,458.65" stroke="#b4e0ff" stroke-width="1.3" stroke-linecap="round" opacity="0.75"/>
<path d="M210,440.65 L216,439.75" stroke="#b4e0ff" stroke-width="1.0" stroke-linecap="round" opacity="0.75"/>
<path d="M212.5,447.95 L219.5,447.05" stroke="#b4e0ff" stroke-width="1.0" stroke-linecap="round" opacity="0.75"/>
<path d="M212.5,451.45 L219,450.55" stroke="#b4e0ff" stroke-width="1.0" stroke-linecap="round" opacity="0.75"/>
<path d="M215.5,458.45 L225.5,457.55" stroke="#b4e0ff" stroke-width="1.2" stroke-linecap="round" opacity="0.75"/>
<path d="M182.2,250.6 183,248.3 184.8,248 191,248 191,273.5 198.6,273.5 198.6,248.6 205,248.6 206.6,249 207.2,251 L250.4,410 252.2,414 254.1,416.6 C248.1,431.6 227.5,438.6 195.5,438.6 C163.5,438.6 140.5,431.6 134.5,416.4 L137.2,413.6 140.4,408.75 Z" fill="url(#scL)"/>
<rect x="191.8" y="273" width="7.2" height="10.6" fill="#0050e0"/>
<path d="M191.3,273 V284.2 H199.4" fill="none" stroke="#12b0fa" stroke-width="0.9"/>
<path d="M183.8,249.4 H190.6 M199.2,250 H206" stroke="#0048d4" stroke-width="1.6" fill="none"/>
<path d="M183.4,251 H190.8 M199,251.6 H206.6" stroke="#6ccaff" stroke-width="0.9" fill="none"/>
<path d="M155.4,351.5 C153.4,356 152.4,362 152.6,367.6 C155,363 156.2,357 155.4,351.5 Z M143.6,402.4 C140.8,408 139.6,414.5 139.3,420.6 C142.4,415.6 144,409 143.6,402.4 Z" fill="#0029b8"/>
<path d="M233.2,354.5 C235.6,358 237.6,363 238.3,367.5 C235.8,364 233.8,359 233.2,354.5 Z M247,406 C249.4,409.6 251,414 251.6,418.4 C249,415 247.4,410.5 247,406 Z" fill="#0029b8"/>
<path d="M200.5,334 L203.5,360 L208.6,425" fill="none" stroke="#2a9cf8" stroke-width="1.2" opacity="0.55"/>
<ellipse cx="195.7" cy="322" rx="10.9" ry="11.5" fill="#14c4ff"/>
<ellipse cx="196" cy="322" rx="10.2" ry="10.9" fill="url(#holeRod)"/>
<ellipse cx="196.3" cy="372.4" rx="10.9" ry="11.5" fill="#14c4ff"/>
<ellipse cx="196.6" cy="372.4" rx="10.2" ry="10.9" fill="#0029b8"/>
<ellipse cx="196.7" cy="428.8" rx="10.5" ry="10.8" fill="#fff"/>
</g>
<g transform="translate(0,400)">
<path d="M680,414 681.5,417.5 C682.45,418.23 685.16,419.72 687.2,421.9 C689.24,424.08 691.85,428.25 693.75,430.6 C695.65,432.95 697.43,434.39 698.6,436 C699.77,437.61 700.62,438.6 700.75,440.25 C700.88,441.9 700.57,443.86 699.4,445.9 C698.23,447.94 696.15,450.67 693.75,452.5 C691.35,454.33 688.64,455.52 685,456.9 C681.36,458.28 677.73,459.58 671.9,460.8 C666.07,462.02 658.15,463.5 650,464.2 C641.85,464.9 632.17,465.32 623,465 C613.83,464.68 602.38,463.3 595,462.3 C587.62,461.3 583.6,460.2 578.7,459 C573.8,457.8 569.23,456.4 565.6,455.1 C561.97,453.8 559.45,452.58 556.9,451.2 C554.35,449.82 552.05,448.4 550.3,446.8 C548.55,445.2 547.23,443.57 546.4,441.6 C545.57,439.63 544.93,437.27 545.3,435 C545.67,432.73 547.03,430.4 548.6,428 C550.17,425.6 552.45,423 554.7,420.6 C556.95,418.2 560.87,414.77 562.1,413.6 Z" fill="#0884f5"/>
<path d="M554.3,431 C576.28,445 598.95,443.5 623,443.5 C647.06,443.5 669.75,445 691.75,432" fill="none" stroke="#0a8ef8" stroke-width="3.2" opacity="0.9"/>
<path d="M550.8,433 C573.9,448.3 597.73,446.8 623,446.8 C648.29,446.8 672.13,448.3 695.25,434" fill="none" stroke="#006ce8" stroke-width="1.5" opacity="0.8"/>
<path d="M548.8,435 C572.54,452.5 597.03,451 623,451 C648.99,451 673.49,452.5 697.25,436" fill="none" stroke="#1090fa" stroke-width="2.6" opacity="0.8"/>
<path d="M547.3,437 C571.52,456.5 596.5,455 623,455 C649.51,455 674.51,456.5 698.75,438" fill="none" stroke="#006ae6" stroke-width="1.6" opacity="0.8"/>
<path d="M546.5,438 C570.98,460 596.23,458.5 623,458.5 C649.79,458.5 675.05,460 699.55,439" fill="none" stroke="#0c8cf8" stroke-width="2.4" opacity="0.8"/>
<path d="M545.9,439.5 C570.57,464.3 596.01,462.8 623,462.8 C650,462.8 675.46,464.3 700.15,440.5" fill="none" stroke="#0070ea" stroke-width="2" opacity="0.6"/>
<path d="M598,441.35 L609.5,442.25" stroke="#b4e0ff" stroke-width="1.1" stroke-linecap="round" opacity="0.75"/>
<path d="M599,448.65 L608.5,449.55" stroke="#b4e0ff" stroke-width="1.0" stroke-linecap="round" opacity="0.75"/>
<path d="M593,452.15 L607,453.05" stroke="#b4e0ff" stroke-width="1.0" stroke-linecap="round" opacity="0.75"/>
<path d="M589,459.15 L604.5,460.05" stroke="#b4e0ff" stroke-width="1.3" stroke-linecap="round" opacity="0.75"/>
<path d="M637.5,442.05 L643.5,441.15" stroke="#b4e0ff" stroke-width="1.0" stroke-linecap="round" opacity="0.75"/>
<path d="M640,449.35 L647,448.45" stroke="#b4e0ff" stroke-width="1.0" stroke-linecap="round" opacity="0.75"/>
<path d="M640,452.85 L646.5,451.95" stroke="#b4e0ff" stroke-width="1.0" stroke-linecap="round" opacity="0.75"/>
<path d="M643,459.85 L653,458.95" stroke="#b4e0ff" stroke-width="1.2" stroke-linecap="round" opacity="0.75"/>
<path d="M618.9,250.6 619.6,248.3 621.4,248 628.8,248 628.8,270.5 633.8,270.5 633.8,248.4 641,248.4 642.6,248.8 643.2,251 L678.7,408.75 680,414 681.5,417.5 C675.5,433 655,440 623,440 C591,440 568.1,433 562.1,413.6 L565,411.4 567.8,409 Z" fill="url(#scR)"/>
<rect x="629.8" y="270.5" width="8.8" height="13.2" fill="#0050e0"/>
<path d="M629.3,270.5 V284.3 H639" fill="none" stroke="#12b0fa" stroke-width="0.9"/>
<path d="M620.4,249.4 H628.4 M634.4,249.8 H642" stroke="#0048d4" stroke-width="1.6" fill="none"/>
<path d="M620,251 H628.6 M634.2,251.4 H642.6" stroke="#6ccaff" stroke-width="0.9" fill="none"/>
<path d="M613.8,264.5 L615.6,265.2 L613.4,277 L611.6,276.4 Z" fill="#0050d8"/>
<ellipse cx="585" cy="359.8" rx="3.7" ry="10.9" transform="rotate(17 585 359.8)" fill="#0029b8"/>
<ellipse cx="568.4" cy="412" rx="3.3" ry="10.6" transform="rotate(19 568.4 412)" fill="#0029b8"/>
<path d="M638,334 L640.5,360 L645,425" fill="none" stroke="#2a9cf8" stroke-width="1.2" opacity="0.55"/>
<ellipse cx="633.1" cy="322" rx="10.9" ry="11.5" fill="#14c4ff"/>
<ellipse cx="633.4" cy="322" rx="10.2" ry="10.9" fill="url(#holeRod)"/>
<ellipse cx="633.1" cy="372.5" rx="10.9" ry="11.5" fill="#14c4ff"/>
<ellipse cx="633.4" cy="372.5" rx="10.2" ry="10.9" fill="#0029b8"/>
<ellipse cx="633.1" cy="430" rx="10.5" ry="10.8" fill="#fff"/>
</g>
<g transform="translate(0,400)" fill="#7a58e0" opacity="0.75">
<path d="M218.3,306.3 L223.6,306.3 L227.5,323.1 L223.2,323.1 Z"/>
<path d="M655.3,306.3 L659.2,306.3 L662.6,323.1 L659.5,323.1 Z"/>
</g>
<g transform="translate(150,611)">
<rect x="154.33" y="306.3" width="513.94" height="16.8" fill="url(#rod4)"/>
<rect x="398.8" y="306.3" width="21.2" height="16.8" rx="1.18" fill="url(#rod4j)"/>
<path d="M398.44,306.8 V322.6 M420.36,306.8 V322.6" stroke="#ffd2c2" stroke-width="0.6" fill="none"/>
<rect x="151.6" y="306.47" width="1.93" height="16.46" rx="0.97" ry="2.35" fill="#2c0c0c"/>
<ellipse cx="152.57" cy="314.2" rx="1.2" ry="1.68" fill="#fff" opacity="0.85"/>
<rect x="153.53" y="306.7" width="0.9" height="16" fill="#ffe4da"/>
<rect x="669.07" y="306.47" width="1.93" height="16.46" rx="0.97" ry="2.35" fill="#2c0c0c"/>
<ellipse cx="670.03" cy="314.2" rx="1.2" ry="1.68" fill="#fff" opacity="0.85"/>
<rect x="668.17" y="306.7" width="0.9" height="16" fill="#ffe4da"/>
</g>
<g transform="translate(150,611)">
<path d="M252.2,414 254.1,416.6 C254.98,417.27 257.43,418.85 259.4,420.6 C261.37,422.35 264.17,425.12 265.9,427.1 C267.63,429.08 268.95,430.82 269.8,432.5 C270.65,434.18 271.13,435.32 271,437.2 C270.87,439.07 270.21,441.78 269,443.75 C267.79,445.72 266.08,447.32 263.75,449 C261.42,450.68 258.64,452.32 255,453.8 C251.36,455.28 247.4,456.57 241.9,457.9 C236.4,459.23 229.65,460.85 222,461.8 C214.35,462.75 204.67,463.5 196,463.6 C187.33,463.7 177.04,462.97 170,462.4 C162.96,461.83 158.65,461.2 153.75,460.2 C148.85,459.2 144.24,457.68 140.6,456.4 C136.96,455.12 134.6,454.02 131.9,452.5 C129.2,450.98 126.3,449 124.4,447.25 C122.5,445.5 121.27,443.89 120.5,442 C119.73,440.11 119.51,437.94 119.8,435.9 C120.09,433.86 120.97,431.8 122.25,429.75 C123.53,427.7 125.46,425.83 127.5,423.6 C129.54,421.38 133.33,417.6 134.5,416.4 Z" fill="#0884f5"/>
<path d="M128.8,429.6 C150.14,443.6 172.16,442.1 195.5,442.1 C218.78,442.1 240.72,443.6 262,430.6" fill="none" stroke="#0a8ef8" stroke-width="3.2" opacity="0.9"/>
<path d="M125.3,431.6 C147.76,446.9 170.93,445.4 195.5,445.4 C220,445.4 243.1,446.9 265.5,432.6" fill="none" stroke="#006ce8" stroke-width="1.5" opacity="0.8"/>
<path d="M123.3,433.6 C146.4,451.1 170.23,449.6 195.5,449.6 C220.7,449.6 244.46,451.1 267.5,434.6" fill="none" stroke="#1090fa" stroke-width="2.6" opacity="0.8"/>
<path d="M121.8,435.6 C145.38,455.1 169.71,453.6 195.5,453.6 C221.22,453.6 245.48,455.1 269,436.6" fill="none" stroke="#006ae6" stroke-width="1.6" opacity="0.8"/>
<path d="M121,436.6 C144.84,458.6 169.43,457.1 195.5,457.1 C221.5,457.1 246.02,458.6 269.8,437.6" fill="none" stroke="#0c8cf8" stroke-width="2.4" opacity="0.8"/>
<path d="M120.4,438.1 C144.43,462.9 169.22,461.4 195.5,461.4 C221.71,461.4 246.43,462.9 270.4,439.1" fill="none" stroke="#0070ea" stroke-width="2" opacity="0.6"/>
<path d="M170.5,439.95 L182,440.85" stroke="#b4e0ff" stroke-width="1.1" stroke-linecap="round" opacity="0.75"/>
<path d="M171.5,447.25 L181,448.15" stroke="#b4e0ff" stroke-width="1.0" stroke-linecap="round" opacity="0.75"/>
<path d="M165.5,450.75 L179.5,451.65" stroke="#b4e0ff" stroke-width="1.0" stroke-linecap="round" opacity="0.75"/>
<path d="M161.5,457.75 L177,458.65" stroke="#b4e0ff" stroke-width="1.3" stroke-linecap="round" opacity="0.75"/>
<path d="M210,440.65 L216,439.75" stroke="#b4e0ff" stroke-width="1.0" stroke-linecap="round" opacity="0.75"/>
<path d="M212.5,447.95 L219.5,447.05" stroke="#b4e0ff" stroke-width="1.0" stroke-linecap="round" opacity="0.75"/>
<path d="M212.5,451.45 L219,450.55" stroke="#b4e0ff" stroke-width="1.0" stroke-linecap="round" opacity="0.75"/>
<path d="M215.5,458.45 L225.5,457.55" stroke="#b4e0ff" stroke-width="1.2" stroke-linecap="round" opacity="0.75"/>
<path d="M182.2,250.6 183,248.3 184.8,248 191,248 191,273.5 198.6,273.5 198.6,248.6 205,248.6 206.6,249 207.2,251 L250.4,410 252.2,414 254.1,416.6 C248.1,431.6 227.5,438.6 195.5,438.6 C163.5,438.6 140.5,431.6 134.5,416.4 L137.2,413.6 140.4,408.75 Z" fill="url(#scL)"/>
<rect x="191.8" y="273" width="7.2" height="10.6" fill="#0050e0"/>
<path d="M191.3,273 V284.2 H199.4" fill="none" stroke="#12b0fa" stroke-width="0.9"/>
<path d="M183.8,249.4 H190.6 M199.2,250 H206" stroke="#0048d4" stroke-width="1.6" fill="none"/>
<path d="M183.4,251 H190.8 M199,251.6 H206.6" stroke="#6ccaff" stroke-width="0.9" fill="none"/>
<path d="M155.4,351.5 C153.4,356 152.4,362 152.6,367.6 C155,363 156.2,357 155.4,351.5 Z M143.6,402.4 C140.8,408 139.6,414.5 139.3,420.6 C142.4,415.6 144,409 143.6,402.4 Z" fill="#0029b8"/>
<path d="M233.2,354.5 C235.6,358 237.6,363 238.3,367.5 C235.8,364 233.8,359 233.2,354.5 Z M247,406 C249.4,409.6 251,414 251.6,418.4 C249,415 247.4,410.5 247,406 Z" fill="#0029b8"/>
<path d="M200.5,334 L203.5,360 L208.6,425" fill="none" stroke="#2a9cf8" stroke-width="1.2" opacity="0.55"/>
<ellipse cx="195.7" cy="322" rx="10.9" ry="11.5" fill="#14c4ff"/>
<ellipse cx="196" cy="322" rx="10.2" ry="10.9" fill="url(#holeRod)"/>
<ellipse cx="196.3" cy="372.4" rx="10.9" ry="11.5" fill="#14c4ff"/>
<ellipse cx="196.6" cy="372.4" rx="10.2" ry="10.9" fill="#0029b8"/>
<ellipse cx="196.7" cy="428.8" rx="10.5" ry="10.8" fill="#fff"/>
</g>
<g transform="translate(150,611)">
<path d="M680,414 681.5,417.5 C682.45,418.23 685.16,419.72 687.2,421.9 C689.24,424.08 691.85,428.25 693.75,430.6 C695.65,432.95 697.43,434.39 698.6,436 C699.77,437.61 700.62,438.6 700.75,440.25 C700.88,441.9 700.57,443.86 699.4,445.9 C698.23,447.94 696.15,450.67 693.75,452.5 C691.35,454.33 688.64,455.52 685,456.9 C681.36,458.28 677.73,459.58 671.9,460.8 C666.07,462.02 658.15,463.5 650,464.2 C641.85,464.9 632.17,465.32 623,465 C613.83,464.68 602.38,463.3 595,462.3 C587.62,461.3 583.6,460.2 578.7,459 C573.8,457.8 569.23,456.4 565.6,455.1 C561.97,453.8 559.45,452.58 556.9,451.2 C554.35,449.82 552.05,448.4 550.3,446.8 C548.55,445.2 547.23,443.57 546.4,441.6 C545.57,439.63 544.93,437.27 545.3,435 C545.67,432.73 547.03,430.4 548.6,428 C550.17,425.6 552.45,423 554.7,420.6 C556.95,418.2 560.87,414.77 562.1,413.6 Z" fill="#0884f5"/>
<path d="M554.3,431 C576.28,445 598.95,443.5 623,443.5 C647.06,443.5 669.75,445 691.75,432" fill="none" stroke="#0a8ef8" stroke-width="3.2" opacity="0.9"/>
<path d="M550.8,433 C573.9,448.3 597.73,446.8 623,446.8 C648.29,446.8 672.13,448.3 695.25,434" fill="none" stroke="#006ce8" stroke-width="1.5" opacity="0.8"/>
<path d="M548.8,435 C572.54,452.5 597.03,451 623,451 C648.99,451 673.49,452.5 697.25,436" fill="none" stroke="#1090fa" stroke-width="2.6" opacity="0.8"/>
<path d="M547.3,437 C571.52,456.5 596.5,455 623,455 C649.51,455 674.51,456.5 698.75,438" fill="none" stroke="#006ae6" stroke-width="1.6" opacity="0.8"/>
<path d="M546.5,438 C570.98,460 596.23,458.5 623,458.5 C649.79,458.5 675.05,460 699.55,439" fill="none" stroke="#0c8cf8" stroke-width="2.4" opacity="0.8"/>
<path d="M545.9,439.5 C570.57,464.3 596.01,462.8 623,462.8 C650,462.8 675.46,464.3 700.15,440.5" fill="none" stroke="#0070ea" stroke-width="2" opacity="0.6"/>
<path d="M598,441.35 L609.5,442.25" stroke="#b4e0ff" stroke-width="1.1" stroke-linecap="round" opacity="0.75"/>
<path d="M599,448.65 L608.5,449.55" stroke="#b4e0ff" stroke-width="1.0" stroke-linecap="round" opacity="0.75"/>
<path d="M593,452.15 L607,453.05" stroke="#b4e0ff" stroke-width="1.0" stroke-linecap="round" opacity="0.75"/>
<path d="M589,459.15 L604.5,460.05" stroke="#b4e0ff" stroke-width="1.3" stroke-linecap="round" opacity="0.75"/>
<path d="M637.5,442.05 L643.5,441.15" stroke="#b4e0ff" stroke-width="1.0" stroke-linecap="round" opacity="0.75"/>
<path d="M640,449.35 L647,448.45" stroke="#b4e0ff" stroke-width="1.0" stroke-linecap="round" opacity="0.75"/>
<path d="M640,452.85 L646.5,451.95" stroke="#b4e0ff" stroke-width="1.0" stroke-linecap="round" opacity="0.75"/>
<path d="M643,459.85 L653,458.95" stroke="#b4e0ff" stroke-width="1.2" stroke-linecap="round" opacity="0.75"/>
<path d="M618.9,250.6 619.6,248.3 621.4,248 628.8,248 628.8,270.5 633.8,270.5 633.8,248.4 641,248.4 642.6,248.8 643.2,251 L678.7,408.75 680,414 681.5,417.5 C675.5,433 655,440 623,440 C591,440 568.1,433 562.1,413.6 L565,411.4 567.8,409 Z" fill="url(#scR)"/>
<rect x="629.8" y="270.5" width="8.8" height="13.2" fill="#0050e0"/>
<path d="M629.3,270.5 V284.3 H639" fill="none" stroke="#12b0fa" stroke-width="0.9"/>
<path d="M620.4,249.4 H628.4 M634.4,249.8 H642" stroke="#0048d4" stroke-width="1.6" fill="none"/>
<path d="M620,251 H628.6 M634.2,251.4 H642.6" stroke="#6ccaff" stroke-width="0.9" fill="none"/>
<path d="M613.8,264.5 L615.6,265.2 L613.4,277 L611.6,276.4 Z" fill="#0050d8"/>
<ellipse cx="585" cy="359.8" rx="3.7" ry="10.9" transform="rotate(17 585 359.8)" fill="#0029b8"/>
<ellipse cx="568.4" cy="412" rx="3.3" ry="10.6" transform="rotate(19 568.4 412)" fill="#0029b8"/>
<path d="M638,334 L640.5,360 L645,425" fill="none" stroke="#2a9cf8" stroke-width="1.2" opacity="0.55"/>
<ellipse cx="633.1" cy="322" rx="10.9" ry="11.5" fill="#14c4ff"/>
<ellipse cx="633.4" cy="322" rx="10.2" ry="10.9" fill="url(#holeRod)"/>
<ellipse cx="633.1" cy="372.5" rx="10.9" ry="11.5" fill="#14c4ff"/>
<ellipse cx="633.4" cy="372.5" rx="10.2" ry="10.9" fill="#0029b8"/>
<ellipse cx="633.1" cy="430" rx="10.5" ry="10.8" fill="#fff"/>
</g>
<g transform="translate(150,611)" fill="#7a58e0" opacity="0.75">
<path d="M218.3,306.3 L223.6,306.3 L227.5,323.1 L223.2,323.1 Z"/>
<path d="M655.3,306.3 L659.2,306.3 L662.6,323.1 L659.5,323.1 Z"/>
</g>
<path d="M902.5,1069 C886,1082 866,1098 851,1113 C836,1128 826,1147 823.8,1164 C822,1180 830,1196 848,1212 C880,1238 940,1262 1000,1277 C1040,1287 1080,1292 1118,1292 C1160,1292 1210,1288 1250,1281 C1300,1270 1345,1250 1375,1226 C1398,1207 1410,1186 1410.3,1168 C1410.5,1150 1400,1130 1382,1112 C1368,1098 1350,1084 1334,1071 Z" fill="url(#bcBase)"/>
<g clip-path="url(#bcClip)" fill="none">
<ellipse cx="1117" cy="1152" rx="287" ry="124" stroke="#006ee9" stroke-width="7" opacity="0.85"/>
<ellipse cx="1117" cy="1134" rx="273" ry="119" stroke="#0a8cf8" stroke-width="9" opacity="0.9"/>
<ellipse cx="1117" cy="1111" rx="249" ry="119.5" stroke="#006ce8" stroke-width="6" opacity="0.85"/>
<ellipse cx="1118" cy="1078" rx="224" ry="131" stroke="#0a8ef9" stroke-width="12" opacity="0.9"/>
<path d="M1006,1190.5 C1030,1195.5 1048,1198.5 1062,1200" stroke="#d4efff" stroke-width="2.4" stroke-linecap="round" opacity="0.95"/>
<path d="M1000,1218 C1022,1223 1042,1226.5 1058,1228.5" stroke="#d4efff" stroke-width="2.4" stroke-linecap="round" opacity="0.95"/>
<path d="M985,1236 C1010,1242 1040,1247.5 1062,1250.5" stroke="#d4efff" stroke-width="2.4" stroke-linecap="round" opacity="0.95"/>
<path d="M980,1260.5 C1005,1266 1035,1270.5 1057,1272.5" stroke="#d4efff" stroke-width="2.4" stroke-linecap="round" opacity="0.95"/>
<path d="M1174,1200.5 C1186,1200.3 1196,1199.5 1205,1198.5" stroke="#d4efff" stroke-width="2.4" stroke-linecap="round" opacity="0.95"/>
<path d="M1181,1230 C1194,1229.3 1206,1228.3 1217,1227" stroke="#d4efff" stroke-width="2.4" stroke-linecap="round" opacity="0.95"/>
<path d="M1181,1247.5 C1196,1246.5 1210,1245.3 1221,1243.8" stroke="#d4efff" stroke-width="2.4" stroke-linecap="round" opacity="0.95"/>
<path d="M1189,1275 C1204,1273.8 1218,1272.4 1229,1270.8" stroke="#d4efff" stroke-width="2.4" stroke-linecap="round" opacity="0.95"/>
<path d="M862,1107 l8,14" stroke="#0062e0" stroke-width="3" stroke-linecap="round" opacity="0.8"/>
<path d="M848,1124 l10,16" stroke="#0062e0" stroke-width="3" stroke-linecap="round" opacity="0.8"/>
<path d="M836,1143 l12,17" stroke="#0062e0" stroke-width="3" stroke-linecap="round" opacity="0.8"/>
<path d="M827,1175 l10,14" stroke="#0062e0" stroke-width="3" stroke-linecap="round" opacity="0.8"/>
<path d="M1372,1108 l-8,15" stroke="#0062e0" stroke-width="3" stroke-linecap="round" opacity="0.8"/>
<path d="M1385,1124 l-9,16" stroke="#0062e0" stroke-width="3" stroke-linecap="round" opacity="0.8"/>
<path d="M1397,1142 l-10,17" stroke="#0062e0" stroke-width="3" stroke-linecap="round" opacity="0.8"/>
<path d="M1404,1176 l-9,15" stroke="#0062e0" stroke-width="3" stroke-linecap="round" opacity="0.8"/>
</g>
<path d="M1093.75,476.88 1095.62,469 1133.75,464.75 1136.5,470.62 1136.75,491.88 1121.25,493.12 1116.25,500 1100.75,608.5 1079,604.5 1089.75,496.5 1105,489 1098.75,481.25 Z" fill="url(#bcSlot)"/>
<path d="M1167.5,491.25 1176,489 1196.5,596.25 1183.75,602.75 1170.62,537.5 Z" fill="url(#bcSlot)"/>
<path d="M1094,475.62 1095.75,469 1133.75,464.75 1136.38,470.62 1130.62,474.75 1110,475.5 Z" fill="#0a84f5"/>
<path d="M1094,475.88 1110,475.62 1130.62,474.88 1136.38,470.75" fill="none" stroke="#14d0ff" stroke-width="1.1"/>
<path d="M1110,475.62 1110.38,480.62 M1130,475 1127.5,471.25" fill="none" stroke="#14d0ff" stroke-width="1"/>
<path d="M1076.3,484 L1062,540 1046,600 1035,640 1017,700 987,800 956,900 928,990 902.5,1069 A216,131 0 0 0 1334,1071 L1300,965 1266,840 1238,740 1213,650 1196,570 1177.6,484.5 L1177.5,483.75 1172.75,475 1160,474.62 1156.25,478.75 1166.88,486.5 1176,489 1196.5,596.25 1183.75,602.75 1170.62,537.5 1160.62,500 Q1159.38,495.25 1155,494.75 L1122.5,493.75 Q1117.75,494.25 1116.25,500 L1100.75,608.5 1079,604.5 1089.75,496.5 1105,489 1096.88,480 1078.75,480.62 Z" fill="url(#bcBody)"/>
<path d="M1116.25,500 Q1117.75,494.25 1122.5,493.75 L1155,494.75 Q1159.38,495.25 1160.62,500 L1171,640 L1170,800 L1174,1000 L1177,1190 C1160,1196 1145,1198 1128,1198 L1127,1000 L1128,800 L1112,640 Z" fill="#0a8af6" opacity="0.8"/>
<path d="M1116.25,500 L1101,609 L1085,760 L1060,1000 L1040,1186 C1060,1194 1100,1198 1128,1198 L1127,1000 L1128,800 L1112,640 Z" fill="#047ef4" opacity="0.55"/>
<path d="M1076.25,484.38 1078.75,480.62 1096.88,480 1105,489 1089.75,496.5 1081.25,487.5 Z" fill="#1098fc"/>
<path d="M1096.88,480 1105,489 1089.75,496.5" fill="none" stroke="#7fe6ff" stroke-width="1.2"/>
<path d="M1089.75,496.5 1079,604.5" stroke="#14d4ff" stroke-width="1.5" fill="none"/>
<path d="M1116.25,500 1100.75,608.5" stroke="#14d4ff" stroke-width="1.4" fill="none"/>
<path d="M1072.75,605 1106.25,612.75" stroke="#2ad0ff" stroke-width="2.2" stroke-linecap="round" fill="none"/>
<path d="M1156.25,478.75 1160,474.62 1172.75,475 1177.5,483.75 1176,489 1166.88,486.5 Z" fill="#0c90fa"/>
<path d="M1176,489 1196.5,596.25" stroke="#14c8ff" stroke-width="1.3" fill="none"/>
<path d="M1183.75,602.75 1197.75,595.75" stroke="#2ad0ff" stroke-width="1.8" stroke-linecap="round" fill="none"/>
<path d="M1160.62,500 1170.62,537.5 1183.75,602.75" stroke="#0a86f6" stroke-width="1" fill="none"/>
<path d="M1070,500 L1046,610 L1018,712" stroke="#1ab4ff" stroke-width="1.2" fill="none" opacity="0.7"/>
<ellipse cx="1072" cy="747" rx="35.4" ry="44.9" fill="#14c4ff"/>
<ellipse cx="1072.5" cy="747" rx="34.2" ry="43.8" fill="url(#bcHole)"/>
<ellipse cx="1045" cy="931" rx="36.5" ry="42.9" fill="#14c4ff"/>
<ellipse cx="1045.5" cy="931" rx="35.300000000000004" ry="41.8" fill="url(#bcHole)"/>
<ellipse cx="1218" cy="735" rx="23.4" ry="45.9" fill="#14c4ff" transform="rotate(-11 1218 735)"/>
<ellipse cx="1218.5" cy="735" rx="22.2" ry="44.8" fill="url(#bcHole)" transform="rotate(-11 1218 735)"/>
<ellipse cx="1257.8" cy="912" rx="23.4" ry="43.5" fill="#14c4ff" transform="rotate(-10 1257.8 912)"/>
<ellipse cx="1258.3" cy="912" rx="22.2" ry="42.4" fill="url(#bcHole)" transform="rotate(-10 1257.8 912)"/>
<ellipse cx="1015" cy="1145" rx="34.9" ry="42.4" fill="#14c4ff"/>
<ellipse cx="1015.5" cy="1145" rx="33.7" ry="41.3" fill="#fff"/>
<ellipse cx="1301" cy="1116" rx="22.9" ry="41.5" fill="#14c4ff" transform="rotate(-12 1301 1116)"/>
<ellipse cx="1301.4" cy="1116" rx="21.8" ry="40.5" fill="#fff" transform="rotate(-12 1301 1116)"/>
<path d="M1283.5,1094 C1286,1082 1292,1076.5 1297.5,1077 C1304,1078 1311,1086 1316,1099 C1305,1092 1294,1089.5 1283.5,1094 Z" fill="#0038cc"/>
<path d="M1199.5,712 C1201,705 1204.5,699.5 1209,696.5 L1212,701.5 C1207,704.5 1203.5,708.5 1199.5,712 Z" fill="#fff"/>
<path d="M1085.93,405.1 A168,62.45 0 1 1 1141.64,409.41 C1139,411.25 1137,418.25 1137.55,426.22 C1123.5,426.75 1105.5,420.25 1085.93,405.1 Z" fill="none" stroke="#f75d19" stroke-width="1.5"/>
<path d="M1087.21,401.85 A164.5,58.95 0 1 1 1141.76,405.91 C1139,407.75 1137,414.75 1135.45,421.68 C1123.5,423.25 1105.5,416.75 1087.21,401.85 Z" fill="#f75d19"/>
<text y="367.6" font-family="'Liberation Sans', sans-serif" font-weight="bold" font-size="78.9" fill="#fff" filter="url(#fat2)"><tspan x="1086.52" textLength="28.45" lengthAdjust="spacingAndGlyphs">1</tspan><tspan x="1111.27" textLength="27.52" lengthAdjust="spacingAndGlyphs">2</tspan><tspan x="1143.05" textLength="25.4" lengthAdjust="spacingAndGlyphs">p</tspan><tspan x="1172.9" textLength="22.25" lengthAdjust="spacingAndGlyphs">c</tspan><tspan x="1200.43" textLength="24.91" lengthAdjust="spacingAndGlyphs">s</tspan></text>
<path d="M1086.22,357.34 H1096.59 V368.4 H1086.22 Z M1107.35,357.34 H1110.75 V368.4 H1107.35 Z" fill="#f75d19"/>
<path d="M373.43,1330.9 A168,62.45 0 1 1 429.14,1335.21 C426.5,1337.05 424.5,1344.05 425.05,1352.03 C411,1352.55 393,1346.05 373.43,1330.9 Z" fill="none" stroke="#f75d19" stroke-width="1.5"/>
<path d="M374.71,1327.65 A164.5,58.95 0 1 1 429.26,1331.71 C426.5,1333.55 424.5,1340.55 422.95,1347.47 C411,1349.05 393,1342.55 374.71,1327.65 Z" fill="#f75d19"/>
<text y="1293.4" font-family="'Liberation Sans', sans-serif" font-weight="bold" font-size="78.9" fill="#fff" filter="url(#fat2)"><tspan x="374.02" textLength="28.45" lengthAdjust="spacingAndGlyphs">1</tspan><tspan x="398.77" textLength="27.52" lengthAdjust="spacingAndGlyphs">2</tspan><tspan x="430.55" textLength="25.4" lengthAdjust="spacingAndGlyphs">p</tspan><tspan x="460.4" textLength="22.25" lengthAdjust="spacingAndGlyphs">c</tspan><tspan x="487.93" textLength="24.91" lengthAdjust="spacingAndGlyphs">s</tspan></text>
<path d="M373.72,1283.14 H384.09 V1294.2 H373.72 Z M394.85,1283.14 H398.25 V1294.2 H394.85 Z" fill="#f75d19"/>
<g transform="translate(122,1104) scale(0.05)">
<path d="M120,280 C126.67,270 136.67,237.5 160,220 C183.33,202.5 220,184.17 260,175 C300,165.83 353.33,165 400,165 C446.67,165 493.33,168.33 540,175 C586.67,181.67 636.67,195 680,205 C723.33,215 753.33,228.33 800,235 C846.67,241.67 908.33,243.33 960,245 C1011.67,246.67 1078.33,240.83 1110,245 C1141.67,249.17 1143.33,265.83 1150,270 L1160,400 1165,900 1170,1340 C1158.33,1345 1145,1358.33 1100,1370 C1055,1381.67 966.67,1398.33 900,1410 C833.33,1421.67 766.67,1431.67 700,1440 C633.33,1448.33 558.33,1460 500,1460 C441.67,1460 395,1451.67 350,1440 C305,1428.33 263.33,1411.67 230,1390 C196.67,1368.33 168.33,1358.33 150,1310 C131.67,1261.67 127.5,1160 120,1100 C112.5,1040 106.33,980.33 105,950 C103.67,919.67 110.83,923.33 112,918 C115,918.67 107,910 130,922 C153,934 205,973.67 250,990 C295,1006.33 355,1018.33 400,1020 C445,1021.67 480,1011.67 520,1000 C560,988.33 606.67,966.67 640,950 C673.33,933.33 696.67,911.67 720,900 C743.33,888.33 770,883.33 780,880 L830,920 885,950 L880,720 C870,720.33 843.33,728.67 820,722 C796.67,715.33 770,693.67 740,680 C710,666.33 676.67,648.33 640,640 C603.33,631.67 560,628.33 520,630 C480,631.67 436.67,640 400,650 C363.33,660 330,676.33 300,690 C270,703.67 238.33,726.67 220,732 C201.67,737.33 195,723.67 190,722 C185,695 170,613.67 160,560 C150,506.33 136.67,446.67 130,400 C123.33,353.33 121.67,300 120,280 Z" fill="#29292b"/>
<path d="M112,918 C115,929.17 107,963 130,985 C153,1007 205,1033.33 250,1050 C295,1066.67 355,1080.83 400,1085 C445,1089.17 480,1082.5 520,1075 C560,1067.5 600,1049.17 640,1040 C680,1030.83 716.67,1021.67 760,1020 C803.33,1018.33 851.67,1025 900,1030 C948.33,1035 1005.33,1045 1050,1050 C1094.67,1055 1148.33,1058.33 1168,1060 L1170,1340 C1158.33,1345 1145,1358.33 1100,1370 C1055,1381.67 966.67,1398.33 900,1410 C833.33,1421.67 766.67,1431.67 700,1440 C633.33,1448.33 558.33,1460 500,1460 C441.67,1460 395,1451.67 350,1440 C305,1428.33 263.33,1411.67 230,1390 C196.67,1368.33 168.33,1358.33 150,1310 C131.67,1261.67 125,1135 120,1100 L105,950 Z" fill="#434449"/>
<path d="M150,300 C168.33,289.17 218.33,247.5 260,235 C301.67,222.5 353.33,224.17 400,225 C446.67,225.83 496.67,229.17 540,240 C583.33,250.83 626.67,266.67 660,290 C693.33,313.33 721.67,341.67 740,380 C758.33,418.33 761.67,468.33 770,520 C778.33,571.67 786.67,661.67 790,690 C775,681.67 731.67,653.33 700,640 C668.33,626.67 633.33,616.67 600,610 C566.67,603.33 533.33,599.17 500,600 C466.67,600.83 433.33,605.83 400,615 C366.67,624.17 330.83,640.83 300,655 C269.17,669.17 236.67,715.83 215,700 C193.33,684.17 180.83,626.67 170,560 C159.17,493.33 153.33,343.33 150,300 Z" fill="#333335"/>
<path d="M800,300 C860,290 930,300 960,340 L985,560 L1010,700 L1000,880 L960,980 L900,940 L890,720 L800,690 C790,560 780,400 800,300 Z" fill="#151516"/>
</g>
<g transform="translate(172,1104) scale(0.05)">
<rect x="140" y="360" width="80" height="930" fill="#252527"/>
<path d="M205,250 C237.5,247.5 334.17,240.83 400,235 C465.83,229.17 550,223.33 600,215 C650,206.67 666.67,195 700,185 C733.33,175 766.67,162.5 800,155 C833.33,147.5 866.67,140.83 900,140 C933.33,139.17 966.67,142.5 1000,150 C1033.33,157.5 1070,170 1100,185 C1130,200 1161.67,220.83 1180,240 C1198.33,259.17 1205,290 1210,300 C1212.5,325 1220,391.67 1225,450 C1230,508.33 1239.17,605 1240,650 C1240.83,695 1238.33,704.67 1230,720 C1221.67,735.33 1196.67,738.33 1190,742 C1175,733.33 1131.67,705.33 1100,690 C1068.33,674.67 1033.33,660 1000,650 C966.67,640 933.33,632.5 900,630 C866.67,627.5 833.33,628.33 800,635 C766.67,641.67 733.33,652.5 700,670 C666.67,687.5 622,726.33 600,740 C578,753.67 573.33,750 568,752 C560,746.67 536.33,730.33 520,720 C503.67,709.67 490,696.67 470,690 C450,683.33 421.67,678.33 400,680 C378.33,681.67 356.67,686.67 340,700 C323.33,713.33 307.5,738.33 300,760 C292.5,781.67 291.67,806.67 295,830 C298.33,853.33 302.5,885 320,900 C337.5,915 375,921.67 400,920 C425,918.33 451.33,898.67 470,890 C488.67,881.33 505,871.67 512,868 C526.67,876.67 568.67,904.67 600,920 C631.33,935.33 666.67,950 700,960 C733.33,970 766.67,977.5 800,980 C833.33,982.5 866.67,980 900,975 C933.33,970 966.67,962.5 1000,950 C1033.33,937.5 1071.33,913.67 1100,900 C1128.67,886.33 1160,873.33 1172,868 C1176.67,873.33 1192.83,861.33 1200,900 C1207.17,938.67 1211.67,1028.33 1215,1100 C1218.33,1171.67 1219.17,1291.67 1220,1330 C1213.33,1340 1200,1373.33 1180,1390 C1160,1406.67 1130,1418.33 1100,1430 C1070,1441.67 1033.33,1453.33 1000,1460 C966.67,1466.67 933.33,1470 900,1470 C866.67,1470 833.33,1466.67 800,1460 C766.67,1453.33 733.33,1440 700,1430 C666.67,1420 633.33,1407.5 600,1400 C566.67,1392.5 541.67,1388.33 500,1385 C458.33,1381.67 398.33,1381.67 350,1380 C301.67,1378.33 233.33,1375.83 210,1375 L200,1000 Z" fill="#29292b"/>
<path d="M200,1010 C221.67,1008.33 293.33,1004.17 330,1000 C366.67,995.83 389.67,995 420,985 C450.33,975 482,939.17 512,940 C542,940.83 568.67,975 600,990 C631.33,1005 666.67,1020 700,1030 C733.33,1040 766.67,1047.5 800,1050 C833.33,1052.5 866.67,1050 900,1045 C933.33,1040 966.67,1032.5 1000,1020 C1033.33,1007.5 1070,985 1100,970 C1130,955 1166.67,936.67 1180,930 L1215,1100 L1220,1330 C1213.33,1340 1200,1373.33 1180,1390 C1160,1406.67 1130,1418.33 1100,1430 C1070,1441.67 1033.33,1453.33 1000,1460 C966.67,1466.67 933.33,1470 900,1470 C866.67,1470 833.33,1466.67 800,1460 C766.67,1453.33 733.33,1440 700,1430 C666.67,1420 633.33,1407.5 600,1400 C566.67,1392.5 541.67,1388.33 500,1385 C458.33,1381.67 398.33,1381.67 350,1380 C301.67,1378.33 233.33,1375.83 210,1375 Z" fill="#434449"/>
<path d="M575,400 C579.17,383.33 579.17,326.67 600,300 C620.83,273.33 666.67,254.17 700,240 C733.33,225.83 766.67,220.83 800,215 C833.33,209.17 866.67,205 900,205 C933.33,205 966.67,207.5 1000,215 C1033.33,222.5 1070,234.17 1100,250 C1130,265.83 1160.83,271.67 1180,310 C1199.17,348.33 1207.5,423.33 1215,480 C1222.5,536.67 1223.33,621.67 1225,650 C1204.17,641.67 1137.5,613.33 1100,600 C1062.5,586.67 1033.33,576.67 1000,570 C966.67,563.33 933.33,560.83 900,560 C866.67,559.17 833.33,558.33 800,565 C766.67,571.67 731.67,582.5 700,600 C668.33,617.5 630,683.33 610,670 C590,656.67 585.83,565 580,520 C574.17,475 575.83,420 575,400 Z" fill="#333335"/>
<ellipse cx="420" cy="445" rx="115" ry="120" fill="#0f0f10"/>
</g>
<g transform="translate(265,1104) scale(0.05)">
<path d="M120,280 C126.67,270 136.67,237.5 160,220 C183.33,202.5 220,184.17 260,175 C300,165.83 353.33,165 400,165 C446.67,165 493.33,168.33 540,175 C586.67,181.67 636.67,195 680,205 C723.33,215 753.33,228.33 800,235 C846.67,241.67 908.33,243.33 960,245 C1011.67,246.67 1078.33,240.83 1110,245 C1141.67,249.17 1143.33,265.83 1150,270 L1160,400 1165,900 1170,1340 C1158.33,1345 1145,1358.33 1100,1370 C1055,1381.67 966.67,1398.33 900,1410 C833.33,1421.67 766.67,1431.67 700,1440 C633.33,1448.33 558.33,1460 500,1460 C441.67,1460 395,1451.67 350,1440 C305,1428.33 263.33,1411.67 230,1390 C196.67,1368.33 168.33,1358.33 150,1310 C131.67,1261.67 127.5,1160 120,1100 C112.5,1040 106.33,980.33 105,950 C103.67,919.67 110.83,923.33 112,918 C115,918.67 107,910 130,922 C153,934 205,973.67 250,990 C295,1006.33 355,1018.33 400,1020 C445,1021.67 480,1011.67 520,1000 C560,988.33 606.67,966.67 640,950 C673.33,933.33 696.67,911.67 720,900 C743.33,888.33 770,883.33 780,880 L830,920 885,950 L880,720 C870,720.33 843.33,728.67 820,722 C796.67,715.33 770,693.67 740,680 C710,666.33 676.67,648.33 640,640 C603.33,631.67 560,628.33 520,630 C480,631.67 436.67,640 400,650 C363.33,660 330,676.33 300,690 C270,703.67 238.33,726.67 220,732 C201.67,737.33 195,723.67 190,722 C185,695 170,613.67 160,560 C150,506.33 136.67,446.67 130,400 C123.33,353.33 121.67,300 120,280 Z" fill="#29292b"/>
<path d="M112,918 C115,929.17 107,963 130,985 C153,1007 205,1033.33 250,1050 C295,1066.67 355,1080.83 400,1085 C445,1089.17 480,1082.5 520,1075 C560,1067.5 600,1049.17 640,1040 C680,1030.83 716.67,1021.67 760,1020 C803.33,1018.33 851.67,1025 900,1030 C948.33,1035 1005.33,1045 1050,1050 C1094.67,1055 1148.33,1058.33 1168,1060 L1170,1340 C1158.33,1345 1145,1358.33 1100,1370 C1055,1381.67 966.67,1398.33 900,1410 C833.33,1421.67 766.67,1431.67 700,1440 C633.33,1448.33 558.33,1460 500,1460 C441.67,1460 395,1451.67 350,1440 C305,1428.33 263.33,1411.67 230,1390 C196.67,1368.33 168.33,1358.33 150,1310 C131.67,1261.67 125,1135 120,1100 L105,950 Z" fill="#434449"/>
<path d="M150,300 C168.33,289.17 218.33,247.5 260,235 C301.67,222.5 353.33,224.17 400,225 C446.67,225.83 496.67,229.17 540,240 C583.33,250.83 626.67,266.67 660,290 C693.33,313.33 721.67,341.67 740,380 C758.33,418.33 761.67,468.33 770,520 C778.33,571.67 786.67,661.67 790,690 C775,681.67 731.67,653.33 700,640 C668.33,626.67 633.33,616.67 600,610 C566.67,603.33 533.33,599.17 500,600 C466.67,600.83 433.33,605.83 400,615 C366.67,624.17 330.83,640.83 300,655 C269.17,669.17 236.67,715.83 215,700 C193.33,684.17 180.83,626.67 170,560 C159.17,493.33 153.33,343.33 150,300 Z" fill="#333335"/>
<path d="M800,300 C860,290 930,300 960,340 L985,560 L1010,700 L1000,880 L960,980 L900,940 L890,720 L800,690 C790,560 780,400 800,300 Z" fill="#151516"/>
</g>
<g transform="translate(315,1104) scale(0.05)">
<rect x="140" y="360" width="80" height="930" fill="#252527"/>
<path d="M205,250 C237.5,247.5 334.17,240.83 400,235 C465.83,229.17 550,223.33 600,215 C650,206.67 666.67,195 700,185 C733.33,175 766.67,162.5 800,155 C833.33,147.5 866.67,140.83 900,140 C933.33,139.17 966.67,142.5 1000,150 C1033.33,157.5 1070,170 1100,185 C1130,200 1161.67,220.83 1180,240 C1198.33,259.17 1205,290 1210,300 C1212.5,325 1220,391.67 1225,450 C1230,508.33 1239.17,605 1240,650 C1240.83,695 1238.33,704.67 1230,720 C1221.67,735.33 1196.67,738.33 1190,742 C1175,733.33 1131.67,705.33 1100,690 C1068.33,674.67 1033.33,660 1000,650 C966.67,640 933.33,632.5 900,630 C866.67,627.5 833.33,628.33 800,635 C766.67,641.67 733.33,652.5 700,670 C666.67,687.5 622,726.33 600,740 C578,753.67 573.33,750 568,752 C560,746.67 536.33,730.33 520,720 C503.67,709.67 490,696.67 470,690 C450,683.33 421.67,678.33 400,680 C378.33,681.67 356.67,686.67 340,700 C323.33,713.33 307.5,738.33 300,760 C292.5,781.67 291.67,806.67 295,830 C298.33,853.33 302.5,885 320,900 C337.5,915 375,921.67 400,920 C425,918.33 451.33,898.67 470,890 C488.67,881.33 505,871.67 512,868 C526.67,876.67 568.67,904.67 600,920 C631.33,935.33 666.67,950 700,960 C733.33,970 766.67,977.5 800,980 C833.33,982.5 866.67,980 900,975 C933.33,970 966.67,962.5 1000,950 C1033.33,937.5 1071.33,913.67 1100,900 C1128.67,886.33 1160,873.33 1172,868 C1176.67,873.33 1192.83,861.33 1200,900 C1207.17,938.67 1211.67,1028.33 1215,1100 C1218.33,1171.67 1219.17,1291.67 1220,1330 C1213.33,1340 1200,1373.33 1180,1390 C1160,1406.67 1130,1418.33 1100,1430 C1070,1441.67 1033.33,1453.33 1000,1460 C966.67,1466.67 933.33,1470 900,1470 C866.67,1470 833.33,1466.67 800,1460 C766.67,1453.33 733.33,1440 700,1430 C666.67,1420 633.33,1407.5 600,1400 C566.67,1392.5 541.67,1388.33 500,1385 C458.33,1381.67 398.33,1381.67 350,1380 C301.67,1378.33 233.33,1375.83 210,1375 L200,1000 Z" fill="#29292b"/>
<path d="M200,1010 C221.67,1008.33 293.33,1004.17 330,1000 C366.67,995.83 389.67,995 420,985 C450.33,975 482,939.17 512,940 C542,940.83 568.67,975 600,990 C631.33,1005 666.67,1020 700,1030 C733.33,1040 766.67,1047.5 800,1050 C833.33,1052.5 866.67,1050 900,1045 C933.33,1040 966.67,1032.5 1000,1020 C1033.33,1007.5 1070,985 1100,970 C1130,955 1166.67,936.67 1180,930 L1215,1100 L1220,1330 C1213.33,1340 1200,1373.33 1180,1390 C1160,1406.67 1130,1418.33 1100,1430 C1070,1441.67 1033.33,1453.33 1000,1460 C966.67,1466.67 933.33,1470 900,1470 C866.67,1470 833.33,1466.67 800,1460 C766.67,1453.33 733.33,1440 700,1430 C666.67,1420 633.33,1407.5 600,1400 C566.67,1392.5 541.67,1388.33 500,1385 C458.33,1381.67 398.33,1381.67 350,1380 C301.67,1378.33 233.33,1375.83 210,1375 Z" fill="#434449"/>
<path d="M575,400 C579.17,383.33 579.17,326.67 600,300 C620.83,273.33 666.67,254.17 700,240 C733.33,225.83 766.67,220.83 800,215 C833.33,209.17 866.67,205 900,205 C933.33,205 966.67,207.5 1000,215 C1033.33,222.5 1070,234.17 1100,250 C1130,265.83 1160.83,271.67 1180,310 C1199.17,348.33 1207.5,423.33 1215,480 C1222.5,536.67 1223.33,621.67 1225,650 C1204.17,641.67 1137.5,613.33 1100,600 C1062.5,586.67 1033.33,576.67 1000,570 C966.67,563.33 933.33,560.83 900,560 C866.67,559.17 833.33,558.33 800,565 C766.67,571.67 731.67,582.5 700,600 C668.33,617.5 630,683.33 610,670 C590,656.67 585.83,565 580,520 C574.17,475 575.83,420 575,400 Z" fill="#333335"/>
<ellipse cx="420" cy="445" rx="115" ry="120" fill="#0f0f10"/>
</g>
<rect x="132" y="1390.6" width="640.5" height="43.4" fill="url(#rod5)"/>
<rect x="137.86" y="1510.3" width="1325.88" height="44" fill="url(#rod6)"/>
<rect x="775.3" y="1510.3" width="55.5" height="44" rx="3.08" fill="url(#rod6j)"/>
<path d="M774.77,1510.8 V1553.8 M831.33,1510.8 V1553.8" stroke="#ffd2c2" stroke-width="0.88" fill="none"/>
<rect x="132" y="1510.74" width="5.06" height="43.12" rx="2.53" ry="6.16" fill="#2c0c0c"/>
<ellipse cx="134.53" cy="1530.98" rx="3.14" ry="4.4" fill="#fff" opacity="0.85"/>
<rect x="137.06" y="1510.7" width="0.9" height="43.2" fill="#ffe4da"/>
<rect x="1464.54" y="1510.74" width="5.06" height="43.12" rx="2.53" ry="6.16" fill="#2c0c0c"/>
<ellipse cx="1467.07" cy="1530.98" rx="3.14" ry="4.4" fill="#fff" opacity="0.85"/>
<rect x="1463.64" y="1510.7" width="0.9" height="43.2" fill="#ffe4da"/>
<path d="M141.8,1451.2 H759.5" stroke="#000" stroke-width="4.6" fill="none"/>
<path d="M129,1451.2 L142.8,1444.3 V1458.1 Z M772.3,1451.2 L758.5,1444.3 V1458.1 Z" fill="#000"/>
<path d="M822.2,1321.4 H1396.7" stroke="#000" stroke-width="4.6" fill="none"/>
<path d="M809.4,1321.4 L823.2,1314.5 V1328.3 Z M1409.5,1321.4 L1395.7,1314.5 V1328.3 Z" fill="#000"/>
<path d="M1429.5,477.3 V1187.5" stroke="#000" stroke-width="4.2" fill="none"/>
<path d="M1429.5,465.5 L1423.1,478.3 H1435.9 Z M1429.5,1199.3 L1423.1,1186.5 H1435.9 Z" fill="#000"/>
<text y="1494" font-family="'Liberation Sans', sans-serif" font-weight="bold" font-size="39.4" fill="#111" filter="url(#fat1)"><tspan x="363.64" textLength="13.58" lengthAdjust="spacingAndGlyphs">1</tspan><tspan x="375.55" textLength="13.58" lengthAdjust="spacingAndGlyphs">4</tspan><tspan x="390.56" textLength="6.79" lengthAdjust="spacingAndGlyphs">.</tspan><tspan x="397.24" textLength="13.58" lengthAdjust="spacingAndGlyphs">1</tspan><tspan x="408.48" textLength="13.58" lengthAdjust="spacingAndGlyphs">7</tspan> <tspan x="427.3" textLength="6.73" lengthAdjust="spacingAndGlyphs">i</tspan><tspan x="433.97" textLength="14.8" lengthAdjust="spacingAndGlyphs">n</tspan> <tspan x="456.9" textLength="9.31" lengthAdjust="spacingAndGlyphs" font-weight="normal">/</tspan> <tspan x="472.95" textLength="16.16" lengthAdjust="spacingAndGlyphs">3</tspan><tspan x="490.19" textLength="16.16" lengthAdjust="spacingAndGlyphs">6</tspan> <tspan x="511.66" textLength="13.12" lengthAdjust="spacingAndGlyphs">c</tspan><tspan x="525.78" textLength="20.97" lengthAdjust="spacingAndGlyphs">m</tspan></text>
<path d="M363.24,1488.88 H368.58 V1494.8 H363.24 Z M373.45,1488.88 H378.15 V1494.8 H373.45 Z M396.84,1488.88 H402.18 V1494.8 H396.84 Z M407.05,1488.88 H410.57 V1494.8 H407.05 Z" fill="#fff"/>
<text y="1365" font-family="'Liberation Sans', sans-serif" font-weight="bold" font-size="39.4" fill="#111" filter="url(#fat1)"><tspan x="1012.98" textLength="16.26" lengthAdjust="spacingAndGlyphs">9</tspan><tspan x="1029.43" textLength="8.12" lengthAdjust="spacingAndGlyphs">.</tspan><tspan x="1037.62" textLength="16.26" lengthAdjust="spacingAndGlyphs">0</tspan><tspan x="1054.8" textLength="16.26" lengthAdjust="spacingAndGlyphs">6</tspan> <tspan x="1076.57" textLength="6.86" lengthAdjust="spacingAndGlyphs">i</tspan><tspan x="1083.31" textLength="15.09" lengthAdjust="spacingAndGlyphs">n</tspan> <tspan x="1105.9" textLength="10.01" lengthAdjust="spacingAndGlyphs" font-weight="normal">/</tspan> <tspan x="1122.58" textLength="16.2" lengthAdjust="spacingAndGlyphs">2</tspan><tspan x="1140.15" textLength="16.2" lengthAdjust="spacingAndGlyphs">3</tspan> <tspan x="1161.39" textLength="12.67" lengthAdjust="spacingAndGlyphs">c</tspan><tspan x="1175.15" textLength="20.26" lengthAdjust="spacingAndGlyphs">m</tspan></text>
<text y="-1451.9" font-family="'Liberation Sans', sans-serif" font-weight="bold" font-size="39.4" fill="#111" filter="url(#fat1)" transform="rotate(90)"><tspan x="719.73" textLength="14.45" lengthAdjust="spacingAndGlyphs">1</tspan><tspan x="730.83" textLength="14.45" lengthAdjust="spacingAndGlyphs">1</tspan><tspan x="741.93" textLength="7.22" lengthAdjust="spacingAndGlyphs">.</tspan><tspan x="750.22" textLength="14.45" lengthAdjust="spacingAndGlyphs">4</tspan><tspan x="766.82" textLength="14.45" lengthAdjust="spacingAndGlyphs">2</tspan> <tspan x="787.15" textLength="6.95" lengthAdjust="spacingAndGlyphs">i</tspan><tspan x="793.93" textLength="15.29" lengthAdjust="spacingAndGlyphs">n</tspan> <tspan x="817.8" textLength="9.91" lengthAdjust="spacingAndGlyphs" font-weight="normal">/</tspan> <tspan x="833.81" textLength="17.34" lengthAdjust="spacingAndGlyphs">2</tspan><tspan x="851.99" textLength="17.34" lengthAdjust="spacingAndGlyphs">9</tspan> <tspan x="874.65" textLength="11.87" lengthAdjust="spacingAndGlyphs">c</tspan><tspan x="887.74" textLength="18.98" lengthAdjust="spacingAndGlyphs">m</tspan></text>
<path d="M719.4,-1457.02 H725.04 V-1451.1 H719.4 Z M730.12,-1457.02 H731.44 V-1451.1 H730.12 Z M730.52,-1457.02 H736.13 V-1451.1 H730.52 Z M741.22,-1457.02 H742.53 V-1451.1 H741.22 Z" fill="#fff" transform="rotate(90)"/>
</svg>
</body>
</html>
